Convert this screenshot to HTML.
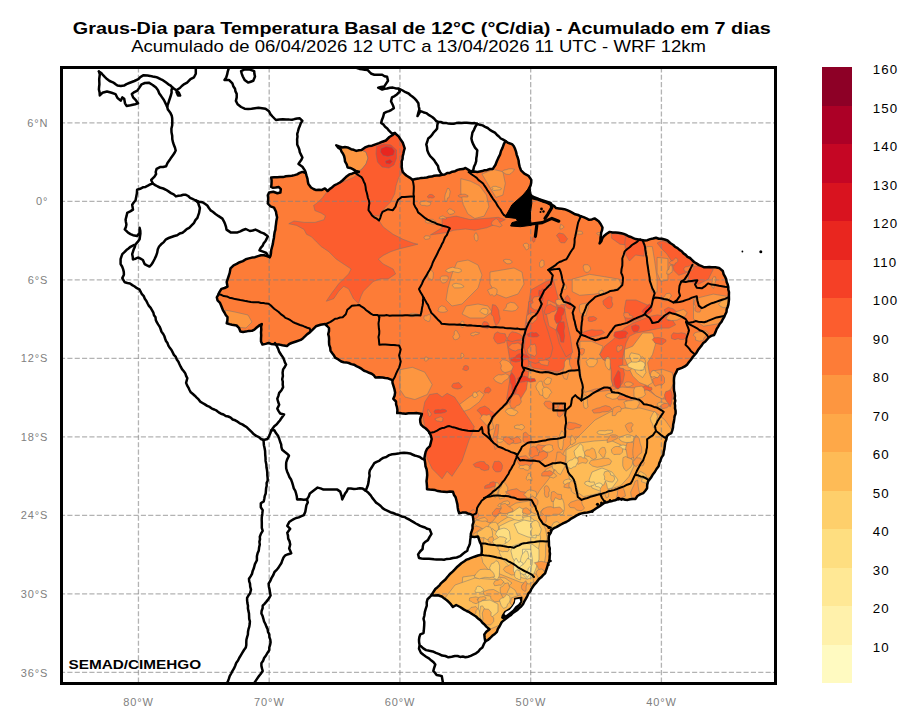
<!DOCTYPE html>
<html><head><meta charset="utf-8"><style>html,body{margin:0;padding:0;background:#fff;}svg{display:block;}</style></head>
<body><svg width="918" height="727" viewBox="0 0 918 727">
<rect width="918" height="727" fill="#fff"/>
<defs><clipPath id="ax"><rect x="63" y="69" width="711" height="613"/></clipPath><clipPath id="br"><path d="M271.2,177.4 280.0,177.0 291.8,175.7 297.1,174.4 302.4,171.9 305.8,173.0 307.5,178.8 308.4,184.0 311.0,187.5 316.2,190.1 321.5,190.1 324.9,188.4 327.6,191.0 331.9,187.5 337.1,184.0 342.4,180.5 345.9,177.1 349.3,174.4 354.6,172.7 358.9,171.8 352.8,169.2 347.6,167.5 345.0,161.4 344.1,156.1 340.6,149.2 336.3,145.3 342.4,147.4 347.6,147.4 351.1,149.2 356.3,150.9 361.5,150.0 365.0,147.4 372.0,145.7 379.0,143.1 385.9,140.5 389.4,137.0 394.9,133.0 398.8,136.6 402.7,142.5 404.7,148.4 402.7,156.2 401.8,164.0 402.7,171.9 406.7,175.8 412.5,179.7 424.3,177.8 434.1,175.8 442.0,174.8 449.8,172.9 457.6,169.9 465.5,168.0 471.4,171.9 477.3,171.9 487.1,169.9 492.8,168.9 495.5,164.8 498.3,157.9 501.0,151.0 503.8,144.1 505.5,141.0 507.9,142.8 512.0,144.1 514.8,148.3 516.8,155.1 518.9,163.4 521.0,170.3 524.4,173.7 528.5,175.8 531.3,179.9 530.6,185.4 528.5,189.5 527.2,192.3 532.0,196.0 540.9,200.5 551.9,204.7 556.1,208.1 561.6,208.8 567.1,210.2 572.6,212.9 578.1,215.0 583.6,217.1 589.1,219.8 594.6,218.4 598.7,221.2 602.5,227.5 600.5,238.0 599.6,243.4 604.0,236.0 609.7,231.9 621.3,233.3 635.7,239.1 644.4,240.5 656.0,237.7 667.5,240.5 673.3,245.0 679.5,249.9 685.7,254.9 691.9,259.8 696.8,263.6 704.2,267.3 711.7,267.3 719.1,267.9 722.8,271.0 725.3,277.2 727.7,284.6 729.0,292.0 729.0,299.4 727.7,306.9 725.3,314.3 721.6,321.7 716.6,329.1 714.1,335.0 708.7,337.5 703.3,342.9 698.0,350.1 692.6,357.2 687.3,364.4 681.9,367.9 677.4,369.5 674.7,375.1 673.9,385.8 674.7,398.3 675.6,410.8 673.9,421.6 673.0,427.5 671.3,433.2 666.8,436.3 665.2,442.4 664.4,448.9 663.4,454.7 660.5,460.4 658.6,466.2 654.8,472.0 650.9,477.8 648.0,481.6 647.1,488.3 643.2,493.2 637.4,496.0 635.5,498.9 627.8,499.9 620.1,499.0 612.4,500.9 604.7,502.8 598.9,506.6 593.2,510.5 587.4,512.4 581.6,513.4 573.9,517.2 566.2,522.0 558.5,525.9 551.8,529.7 548.9,535.5 548.9,541.3 549.0,545.9 550.0,553.7 549.0,561.6 547.1,567.5 545.1,573.3 541.2,577.3 537.3,581.2 534.0,585.0 531.3,589.1 528.5,593.3 525.8,598.8 523.0,604.3 518.9,608.4 514.8,611.8 510.6,615.3 505.8,618.7 501.7,622.1 499.6,626.3 496.9,631.8 490.2,638.0 485.3,641.5 484.3,634.4 486.3,631.8 489.5,629.2 486.3,626.6 482.4,622.7 478.4,618.8 473.2,614.8 469.3,612.2 464.1,609.6 460.1,607.0 456.2,605.0 452.9,607.0 451.0,604.4 447.1,600.5 441.8,596.5 437.9,595.2 431.4,595.2 435.3,589.0 441.2,583.1 447.1,577.3 452.9,571.4 458.8,565.5 466.7,559.6 474.5,556.7 481.4,554.7 481.6,547.3 479.8,541.9 478.0,536.5 470.8,536.5 471.7,531.2 473.5,522.2 472.6,515.1 465.5,512.4 459.2,513.3 457.4,504.4 455.6,497.2 453.0,491.8 444.0,491.8 435.1,490.1 427.0,489.2 426.5,481.1 427.0,472.2 425.2,463.2 424.4,457.9 427.0,448.9 429.9,446.2 431.7,439.0 430.8,435.5 429.0,431.9 425.5,428.3 421.0,424.7 420.1,419.4 421.9,414.0 416.5,413.1 405.8,413.7 397.2,413.1 396.9,406.9 396.0,401.5 393.3,398.8 395.1,392.6 393.3,385.4 392.4,380.1 387.9,378.3 382.6,377.4 375.4,377.4 371.7,373.7 364.1,370.7 356.4,366.1 348.8,363.0 341.2,361.5 335.1,357.7 330.5,350.8 329.0,341.7 328.2,334.1 329.0,328.0 325.1,324.0 320.5,324.7 315.9,326.3 312.9,329.3 309.8,332.4 305.2,336.2 300.7,339.9 296.1,341.5 291.5,343.0 286.9,346.1 282.4,345.3 276.3,344.6 268.6,343.0 262.5,344.6 261.0,341.5 261.0,332.4 261.8,324.0 256.4,327.8 251.9,330.8 245.8,331.6 240.4,331.6 238.9,327.8 236.6,325.5 232.0,324.7 226.7,323.2 227.5,317.1 224.4,312.5 222.1,308.0 219.8,302.6 217.5,300.3 216.8,297.3 219.1,292.7 221.4,288.9 227.5,286.6 226.7,282.0 228.2,277.5 229.7,272.9 230.5,268.3 233.6,265.3 239.7,262.2 245.8,259.2 251.9,257.6 258.0,256.1 264.1,255.3 269.6,257.2 270.5,255.8 271.9,247.5 273.3,240.7 274.6,232.4 276.0,224.1 277.1,217.3 276.0,211.8 274.0,207.6 270.5,206.3 267.8,203.5 267.8,195.3 269.1,192.5 273.3,191.8 277.4,193.2 280.4,192.5 280.8,189.1 278.8,187.0 272.6,187.7 271.2,187.0Z"/></clipPath></defs>
<g clip-path="url(#ax)">
<path d="M271.2,177.4 280.0,177.0 291.8,175.7 297.1,174.4 302.4,171.9 305.8,173.0 307.5,178.8 308.4,184.0 311.0,187.5 316.2,190.1 321.5,190.1 324.9,188.4 327.6,191.0 331.9,187.5 337.1,184.0 342.4,180.5 345.9,177.1 349.3,174.4 354.6,172.7 358.9,171.8 352.8,169.2 347.6,167.5 345.0,161.4 344.1,156.1 340.6,149.2 336.3,145.3 342.4,147.4 347.6,147.4 351.1,149.2 356.3,150.9 361.5,150.0 365.0,147.4 372.0,145.7 379.0,143.1 385.9,140.5 389.4,137.0 394.9,133.0 398.8,136.6 402.7,142.5 404.7,148.4 402.7,156.2 401.8,164.0 402.7,171.9 406.7,175.8 412.5,179.7 424.3,177.8 434.1,175.8 442.0,174.8 449.8,172.9 457.6,169.9 465.5,168.0 471.4,171.9 477.3,171.9 487.1,169.9 492.8,168.9 495.5,164.8 498.3,157.9 501.0,151.0 503.8,144.1 505.5,141.0 507.9,142.8 512.0,144.1 514.8,148.3 516.8,155.1 518.9,163.4 521.0,170.3 524.4,173.7 528.5,175.8 531.3,179.9 530.6,185.4 528.5,189.5 527.2,192.3 532.0,196.0 540.9,200.5 551.9,204.7 556.1,208.1 561.6,208.8 567.1,210.2 572.6,212.9 578.1,215.0 583.6,217.1 589.1,219.8 594.6,218.4 598.7,221.2 602.5,227.5 600.5,238.0 599.6,243.4 604.0,236.0 609.7,231.9 621.3,233.3 635.7,239.1 644.4,240.5 656.0,237.7 667.5,240.5 673.3,245.0 679.5,249.9 685.7,254.9 691.9,259.8 696.8,263.6 704.2,267.3 711.7,267.3 719.1,267.9 722.8,271.0 725.3,277.2 727.7,284.6 729.0,292.0 729.0,299.4 727.7,306.9 725.3,314.3 721.6,321.7 716.6,329.1 714.1,335.0 708.7,337.5 703.3,342.9 698.0,350.1 692.6,357.2 687.3,364.4 681.9,367.9 677.4,369.5 674.7,375.1 673.9,385.8 674.7,398.3 675.6,410.8 673.9,421.6 673.0,427.5 671.3,433.2 666.8,436.3 665.2,442.4 664.4,448.9 663.4,454.7 660.5,460.4 658.6,466.2 654.8,472.0 650.9,477.8 648.0,481.6 647.1,488.3 643.2,493.2 637.4,496.0 635.5,498.9 627.8,499.9 620.1,499.0 612.4,500.9 604.7,502.8 598.9,506.6 593.2,510.5 587.4,512.4 581.6,513.4 573.9,517.2 566.2,522.0 558.5,525.9 551.8,529.7 548.9,535.5 548.9,541.3 549.0,545.9 550.0,553.7 549.0,561.6 547.1,567.5 545.1,573.3 541.2,577.3 537.3,581.2 534.0,585.0 531.3,589.1 528.5,593.3 525.8,598.8 523.0,604.3 518.9,608.4 514.8,611.8 510.6,615.3 505.8,618.7 501.7,622.1 499.6,626.3 496.9,631.8 490.2,638.0 485.3,641.5 484.3,634.4 486.3,631.8 489.5,629.2 486.3,626.6 482.4,622.7 478.4,618.8 473.2,614.8 469.3,612.2 464.1,609.6 460.1,607.0 456.2,605.0 452.9,607.0 451.0,604.4 447.1,600.5 441.8,596.5 437.9,595.2 431.4,595.2 435.3,589.0 441.2,583.1 447.1,577.3 452.9,571.4 458.8,565.5 466.7,559.6 474.5,556.7 481.4,554.7 481.6,547.3 479.8,541.9 478.0,536.5 470.8,536.5 471.7,531.2 473.5,522.2 472.6,515.1 465.5,512.4 459.2,513.3 457.4,504.4 455.6,497.2 453.0,491.8 444.0,491.8 435.1,490.1 427.0,489.2 426.5,481.1 427.0,472.2 425.2,463.2 424.4,457.9 427.0,448.9 429.9,446.2 431.7,439.0 430.8,435.5 429.0,431.9 425.5,428.3 421.0,424.7 420.1,419.4 421.9,414.0 416.5,413.1 405.8,413.7 397.2,413.1 396.9,406.9 396.0,401.5 393.3,398.8 395.1,392.6 393.3,385.4 392.4,380.1 387.9,378.3 382.6,377.4 375.4,377.4 371.7,373.7 364.1,370.7 356.4,366.1 348.8,363.0 341.2,361.5 335.1,357.7 330.5,350.8 329.0,341.7 328.2,334.1 329.0,328.0 325.1,324.0 320.5,324.7 315.9,326.3 312.9,329.3 309.8,332.4 305.2,336.2 300.7,339.9 296.1,341.5 291.5,343.0 286.9,346.1 282.4,345.3 276.3,344.6 268.6,343.0 262.5,344.6 261.0,341.5 261.0,332.4 261.8,324.0 256.4,327.8 251.9,330.8 245.8,331.6 240.4,331.6 238.9,327.8 236.6,325.5 232.0,324.7 226.7,323.2 227.5,317.1 224.4,312.5 222.1,308.0 219.8,302.6 217.5,300.3 216.8,297.3 219.1,292.7 221.4,288.9 227.5,286.6 226.7,282.0 228.2,277.5 229.7,272.9 230.5,268.3 233.6,265.3 239.7,262.2 245.8,259.2 251.9,257.6 258.0,256.1 264.1,255.3 269.6,257.2 270.5,255.8 271.9,247.5 273.3,240.7 274.6,232.4 276.0,224.1 277.1,217.3 276.0,211.8 274.0,207.6 270.5,206.3 267.8,203.5 267.8,195.3 269.1,192.5 273.3,191.8 277.4,193.2 280.4,192.5 280.8,189.1 278.8,187.0 272.6,187.7 271.2,187.0Z" fill="#fd7c37"/>
<g clip-path="url(#br)">
<path d="M572.2,279.2 589.5,274.3 604.4,276.7 619.2,279.2 621.7,286.6 609.3,291.6 594.5,294.1 579.6,295.3 572.2,291.6Z" fill="#fd9640" stroke="#6e7478" stroke-opacity="0.6" stroke-width="0.8"/>
<path d="M693.5,299.0 713.3,294.1 728.1,296.5 728.1,311.4 718.2,323.8 703.4,326.2 693.5,318.8Z" fill="#fd9640" stroke="#6e7478" stroke-opacity="0.6" stroke-width="0.8"/>
<path d="M646.3,246.6 652.3,246.6 654.7,261.0 657.1,278.9 657.1,292.1 652.3,292.1 649.9,278.9 647.5,261.0Z" fill="#fd9640" stroke="#6e7478" stroke-opacity="0.6" stroke-width="0.8"/>
<path d="M657.1,257.4 667.9,258.6 667.9,280.1 660.7,281.3 657.1,272.9Z" fill="#fd9640" stroke="#6e7478" stroke-opacity="0.6" stroke-width="0.8"/>
<path d="M472.6,515.1 476.2,513.3 477.1,507.9 481.6,500.8 488.7,495.4 499.4,486.5 507.0,476.0 514.0,464.0 517.1,454.5 508.2,450.6 498.4,446.7 491.6,440.8 488.6,432.9 488.6,425.1 492.5,417.3 500.0,410.0 508.0,404.0 515.0,395.0 520.0,385.0 524.0,370.0 540.0,372.0 560.0,373.0 579.0,370.0 585.0,390.0 595.0,392.0 612.0,390.0 622.0,387.0 635.0,388.0 648.0,390.0 656.0,396.0 663.0,399.0 676.0,399.0 700.0,399.0 700.0,700.0 400.0,700.0 400.0,560.0 460.0,530.0Z" fill="#fd9640" stroke="#6e7478" stroke-opacity="0.6" stroke-width="0.8"/>
<path d="M400.0,369.7 412.4,367.3 424.8,372.2 432.2,384.6 427.3,394.5 414.9,399.5 405.0,397.0 400.0,389.6Z" fill="#fd9640" stroke="#6e7478" stroke-opacity="0.6" stroke-width="0.8"/>
<path d="M459.5,404.4 469.4,397.0 479.3,390.8 484.2,394.5 479.3,401.9 469.4,409.4 461.9,411.9Z" fill="#fd9640" stroke="#6e7478" stroke-opacity="0.6" stroke-width="0.8"/>
<path d="M457.0,262.0 468.0,260.0 478.0,265.0 482.0,275.0 478.0,288.0 470.0,296.0 462.0,304.0 452.0,306.0 446.0,300.0 448.0,288.0 452.0,274.0Z" fill="#fd9640" stroke="#6e7478" stroke-opacity="0.6" stroke-width="0.8"/>
<path d="M490.0,272.0 502.0,270.0 514.0,268.0 522.0,272.0 524.0,284.0 518.0,294.0 506.0,298.0 496.0,294.0 490.0,284.0Z" fill="#fd9640" stroke="#6e7478" stroke-opacity="0.6" stroke-width="0.8"/>
<path d="M466.0,306.0 478.0,304.0 488.0,306.0 492.0,312.0 484.0,318.0 470.0,318.0 462.0,314.0Z" fill="#fd9640" stroke="#6e7478" stroke-opacity="0.6" stroke-width="0.8"/>
<path d="M460.8,178.7 470.2,181.1 479.5,185.7 486.5,195.1 488.9,206.8 484.2,216.1 474.9,218.5 467.8,213.8 463.2,204.4 460.8,192.7Z" fill="#fd9640" stroke="#6e7478" stroke-opacity="0.6" stroke-width="0.8"/>
<path d="M481.9,174.0 493.6,169.4 502.9,171.7 505.3,183.4 502.9,195.1 495.9,197.4 488.9,185.7Z" fill="#fd9640" stroke="#6e7478" stroke-opacity="0.6" stroke-width="0.8"/>
<path d="M224.8,310.0 235.0,312.0 248.0,315.0 252.0,322.0 246.0,328.0 236.0,327.0 228.0,322.0Z" fill="#fd9640" stroke="#6e7478" stroke-opacity="0.6" stroke-width="0.8"/>
<path d="M336.3,145.3 342.4,147.4 347.6,147.4 351.1,149.2 356.3,150.9 361.5,150.0 366.0,152.0 368.0,158.0 366.0,164.0 362.0,169.0 358.0,172.0 352.8,169.2 347.6,167.5 345.0,161.4 344.1,156.1 340.6,149.2Z" fill="#fd9640" stroke="#6e7478" stroke-opacity="0.6" stroke-width="0.8"/>
<path d="M579.9,341.3 591.5,341.3 603.0,346.2 599.7,354.5 603.0,359.4 609.6,362.7 611.3,371.0 611.3,379.2 612.9,385.8 606.3,387.5 594.8,389.1 584.9,392.4 581.6,382.5 579.9,366.0 579.9,349.5Z" fill="#fd9640" stroke="#6e7478" stroke-opacity="0.6" stroke-width="0.8"/>
<path d="M652.5,371.0 662.4,369.3 672.3,372.6 674.0,382.5 669.0,392.4 662.4,399.0 655.8,395.7 649.2,389.1 647.6,382.5 652.5,375.9Z" fill="#fd9640" stroke="#6e7478" stroke-opacity="0.6" stroke-width="0.8"/>
<path d="M470.8,536.5 472.9,534.5 484.5,526.2 492.7,521.3 499.3,513.0 507.6,508.1 515.9,503.1 525.8,501.5 534.0,499.8 540.0,490.0 548.0,480.0 555.0,470.0 560.0,460.0 565.0,450.0 575.0,440.0 585.0,430.0 595.0,420.0 610.0,412.0 625.0,408.0 640.0,408.0 655.0,412.0 665.0,420.0 672.0,430.0 700.0,430.0 700.0,700.0 400.0,700.0 400.0,560.0Z" fill="#fea848" stroke="#6e7478" stroke-opacity="0.6" stroke-width="0.8"/>
<path d="M624.5,349.5 632.7,346.2 642.6,333.0 652.5,333.0 655.8,342.9 652.5,354.5 647.6,362.7 649.2,372.6 652.5,382.5 647.6,385.8 639.3,382.5 632.7,375.9 627.8,366.0 624.5,357.8Z" fill="#fea848" stroke="#6e7478" stroke-opacity="0.6" stroke-width="0.8"/>
<path d="M566.0,450.0 579.0,443.0 594.4,441.0 610.0,440.0 621.0,445.0 630.0,454.0 634.0,466.0 628.8,476.8 620.8,485.6 607.6,490.0 594.4,494.4 583.4,496.6 574.6,490.0 569.0,476.8 566.0,463.6Z" fill="#febb56" stroke="#6e7478" stroke-opacity="0.6" stroke-width="0.8"/>
<path d="M484.5,534.5 492.7,527.9 501.0,521.3 509.2,516.3 519.2,513.0 529.1,511.4 537.3,514.7 542.3,521.3 545.6,529.5 547.2,537.8 545.6,546.0 545.6,555.9 543.9,565.9 540.6,574.1 535.7,580.7 529.1,584.0 520.8,582.4 512.5,579.1 504.3,575.8 496.0,572.5 487.8,569.2 482.8,562.5 481.2,554.3 482.8,546.0Z" fill="#febb56" stroke="#6e7478" stroke-opacity="0.6" stroke-width="0.8"/>
<path d="M462.7,577.0 475.0,575.3 490.0,576.0 505.0,578.0 512.0,583.0 505.0,589.0 490.0,588.0 475.0,587.0 462.0,586.0Z" fill="#febb56" stroke="#6e7478" stroke-opacity="0.6" stroke-width="0.8"/>
<path d="M474.5,598.0 485.0,596.9 498.0,598.0 506.0,603.0 505.9,612.0 500.0,620.0 490.0,622.4 480.0,620.0 474.5,612.0Z" fill="#febb56" stroke="#6e7478" stroke-opacity="0.6" stroke-width="0.8"/>
<path d="M455.0,585.0 475.0,578.0 500.0,580.0 515.0,590.0 520.0,600.0 510.0,612.0 500.0,625.0 488.0,630.0 478.0,622.0 465.0,612.0 452.0,605.0 445.0,598.0Z" fill="#febb56" stroke="#6e7478" stroke-opacity="0.6" stroke-width="0.8"/>
<path d="M631.1,352.8 639.3,354.5 644.3,362.7 645.9,372.6 642.6,377.6 636.0,372.6 632.7,364.4 629.4,356.1Z" fill="#febb56" stroke="#6e7478" stroke-opacity="0.6" stroke-width="0.8"/>
<path d="M592.0,472.0 602.0,468.0 612.0,472.0 618.0,480.0 612.0,488.0 600.0,491.0 592.0,488.0 589.0,480.0Z" fill="#fecf6b" stroke="#6e7478" stroke-opacity="0.6" stroke-width="0.8"/>
<path d="M499.3,526.2 509.2,521.3 519.2,518.0 529.1,516.3 535.7,521.3 539.0,529.5 540.6,537.8 539.0,546.0 537.3,555.9 535.7,565.9 532.4,574.1 527.4,579.1 520.8,577.4 515.9,572.5 509.2,565.9 502.6,559.2 499.3,552.6 501.0,542.7 499.3,534.5Z" fill="#fecf6b" stroke="#6e7478" stroke-opacity="0.6" stroke-width="0.8"/>
<path d="M479.0,601.0 490.0,600.0 498.0,604.0 498.0,612.0 492.0,617.0 482.0,616.0 478.4,609.0Z" fill="#fecf6b" stroke="#6e7478" stroke-opacity="0.6" stroke-width="0.8"/>
<path d="M512.5,546.0 522.5,542.7 532.4,544.4 539.0,549.3 539.0,559.2 535.7,569.2 532.4,577.4 527.4,579.1 522.5,574.1 517.5,565.9 512.5,557.6 510.9,551.0Z" fill="#fede80" stroke="#6e7478" stroke-opacity="0.6" stroke-width="0.8"/>
<path d="M514.0,524.0 524.0,520.0 533.0,522.0 537.0,530.0 536.0,538.0 528.0,537.0 518.0,533.0Z" fill="#fede80" stroke="#6e7478" stroke-opacity="0.6" stroke-width="0.8"/>
<path d="M522.5,549.3 530.7,549.3 532.4,559.2 530.7,572.5 527.4,577.4 524.1,572.5 522.5,562.5Z" fill="#ffe895" stroke="#6e7478" stroke-opacity="0.6" stroke-width="0.8"/>
<path d="M530.8,290.0 545.0,282.0 553.0,278.0 556.0,290.0 560.0,305.0 566.0,320.0 570.0,338.0 572.0,352.0 568.0,366.0 558.0,372.0 545.0,370.0 533.0,368.0 524.0,358.0 523.0,340.0 526.0,320.0 529.0,302.0Z" fill="#fc5d2e" stroke="#6e7478" stroke-opacity="0.6" stroke-width="0.8"/>
<path d="M611.6,233.4 631.9,235.8 629.5,245.4 620.0,244.2 611.6,238.2Z" fill="#fc5d2e" stroke="#6e7478" stroke-opacity="0.6" stroke-width="0.8"/>
<path d="M661.9,240.6 673.9,245.4 685.9,252.6 694.3,261.0 691.9,268.1 685.9,272.9 678.7,275.3 673.9,270.5 671.5,261.0 666.7,253.8 661.9,249.0 657.1,243.0Z" fill="#fc5d2e" stroke="#6e7478" stroke-opacity="0.6" stroke-width="0.8"/>
<path d="M688.5,266.8 703.4,265.6 713.3,269.3 708.3,279.2 698.4,284.2 688.5,281.7Z" fill="#fc5d2e" stroke="#6e7478" stroke-opacity="0.6" stroke-width="0.8"/>
<path d="M625.9,234.6 642.7,238.2 645.1,249.0 643.9,256.2 635.5,255.0 629.5,261.0 625.9,255.0 624.8,243.0Z" fill="#fc5d2e" stroke="#6e7478" stroke-opacity="0.6" stroke-width="0.8"/>
<path d="M330.0,188.6 336.2,184.8 344.9,181.1 353.5,177.4 358.5,173.7 361.5,177.1 365.0,184.0 366.8,192.7 369.4,203.2 368.5,210.2 372.0,215.4 378.3,219.5 383.2,226.9 393.1,234.3 403.0,239.3 412.9,243.0 417.9,244.2 408.0,246.7 398.1,249.2 390.6,251.7 383.2,255.4 378.3,259.1 383.2,264.0 393.1,269.0 395.6,273.9 388.2,278.9 380.7,278.9 373.3,281.4 368.4,286.3 363.4,291.3 361.0,296.2 358.5,303.6 353.5,298.7 348.6,288.8 343.6,286.3 338.7,291.3 333.7,298.7 326.3,301.2 331.3,293.7 338.7,283.8 343.6,278.9 348.6,273.9 351.1,269.0 343.6,264.0 336.2,259.1 328.8,251.7 321.4,246.7 316.4,241.8 311.5,236.8 306.5,234.3 304.0,229.4 296.6,225.4 288.8,223.7 294.0,221.0 304.4,222.4 314.9,222.4 324.1,219.7 325.4,215.8 321.4,213.2 314.9,210.6 313.6,205.4 317.5,202.7 322.7,197.5 326.0,193.0Z" fill="#fc5d2e" stroke="#6e7478" stroke-opacity="0.6" stroke-width="0.8"/>
<path d="M361.0,150.0 372.0,145.7 379.0,143.1 385.9,140.5 389.4,137.0 394.9,133.0 398.8,136.6 402.7,142.5 404.7,148.4 402.7,156.2 401.8,164.0 402.7,171.9 398.8,177.3 396.1,185.5 394.7,193.8 390.5,202.1 385.0,207.6 379.0,216.0 372.0,215.4 368.5,210.2 369.4,203.2 366.8,192.7 365.0,184.0 361.5,177.1 358.0,172.0 362.0,169.0 366.0,164.0 368.0,158.0 366.0,152.0Z" fill="#fc5d2e" stroke="#6e7478" stroke-opacity="0.6" stroke-width="0.8"/>
<path d="M442.1,218.5 456.1,216.1 470.2,219.6 484.2,218.5 498.2,217.3 505.3,219.6 498.2,223.2 486.5,227.8 474.9,230.2 465.5,229.0 453.8,230.2 446.8,232.5 430.4,234.9 442.1,227.8Z" fill="#fc5d2e" stroke="#6e7478" stroke-opacity="0.6" stroke-width="0.8"/>
<path d="M422.3,414.3 424.8,401.9 429.7,394.5 437.2,393.3 442.1,397.0 447.1,393.3 454.5,397.0 459.5,404.4 464.4,411.9 469.4,419.3 474.3,426.7 471.9,434.2 469.4,439.1 466.9,446.5 464.4,454.0 461.9,461.4 457.0,468.8 452.0,476.3 447.1,471.3 442.1,478.8 437.2,473.8 432.2,468.8 427.3,458.9 424.8,451.5 427.3,439.1 424.8,426.7Z" fill="#fc5d2e" stroke="#6e7478" stroke-opacity="0.6" stroke-width="0.8"/>
<path d="M506.5,340.0 523.9,340.0 528.8,354.9 528.8,372.2 526.4,389.6 518.9,401.9 511.5,404.4 506.5,399.5 509.0,384.6 511.5,369.7 509.0,354.9Z" fill="#fc5d2e" stroke="#6e7478" stroke-opacity="0.6" stroke-width="0.8"/>
<path d="M528.6,301.8 535.2,299.6 541.8,306.2 544.0,319.4 548.4,332.6 552.8,348.0 550.6,356.8 544.0,361.2 535.2,363.4 528.6,361.2 524.2,348.0 526.4,326.0 528.6,315.0Z" fill="#fc5d2e" stroke="#6e7478" stroke-opacity="0.6" stroke-width="0.8"/>
<path d="M557.2,304.0 563.8,301.8 566.0,317.2 570.4,337.0 572.6,352.4 566.0,356.8 559.4,343.6 555.0,326.0Z" fill="#fc5d2e" stroke="#6e7478" stroke-opacity="0.6" stroke-width="0.8"/>
<path d="M599.7,354.5 604.7,346.2 612.9,339.6 619.5,333.0 624.5,328.1 632.7,323.1 641.0,319.8 649.2,316.5 657.5,314.9 665.7,316.5 672.3,319.8 675.6,324.8 669.0,328.1 660.8,328.1 652.5,329.7 644.3,331.4 636.0,333.0 629.4,336.3 626.1,342.9 624.5,349.5 622.8,357.8 622.8,366.0 624.5,374.3 622.8,382.5 617.9,389.1 612.9,385.8 611.3,379.2 611.3,371.0 609.6,362.7 603.0,359.4Z" fill="#fc5d2e" stroke="#6e7478" stroke-opacity="0.6" stroke-width="0.8"/>
<path d="M626.1,300.0 636.0,300.0 647.6,305.0 649.2,313.2 641.0,318.2 632.7,321.5 626.1,323.1 624.5,316.5 624.5,308.3Z" fill="#fc5d2e" stroke="#6e7478" stroke-opacity="0.6" stroke-width="0.8"/>
<path d="M548.0,300.0 556.0,304.0 560.0,318.0 556.0,330.0 549.0,326.0 546.0,312.0Z" fill="#fd7c37" stroke="#6e7478" stroke-opacity="0.6" stroke-width="0.8"/>
<path d="M376.5,146.5 383.0,144.0 391.0,145.0 396.5,150.0 396.5,158.0 394.0,165.0 389.0,168.0 382.0,167.0 377.5,162.0 376.0,154.0Z" fill="#f54026" stroke="#6e7478" stroke-opacity="0.6" stroke-width="0.8"/>
<path d="M381.0,148.5 386.0,146.5 392.0,147.5 394.5,151.0 393.5,155.0 388.0,156.5 383.0,155.5 380.5,152.0Z" fill="#e9261f" stroke="#6e7478" stroke-opacity="0.6" stroke-width="0.8"/>
<path d="M385.5,161.0 390.0,159.5 392.5,161.5 390.0,164.0 386.0,163.5Z" fill="#e9261f" stroke="#6e7478" stroke-opacity="0.6" stroke-width="0.8"/>
<path d="M492.6,441.6 491.1,440.3 491.9,438.7 496.1,439.0 497.8,438.6 499.6,438.9 502.1,439.3 503.3,440.5 502.1,441.8 499.8,442.5 497.4,441.7 495.4,442.0Z" fill="#fea848" stroke="#6e7478" stroke-opacity="0.6" stroke-width="0.8"/>
<path d="M513.1,443.1 509.4,443.3 506.9,441.3 508.1,438.8 511.8,438.1 514.2,438.1 517.4,436.5 519.3,438.3 521.0,440.1 521.0,442.4 517.7,443.3 515.2,443.6Z" fill="#fd7c37" stroke="#6e7478" stroke-opacity="0.6" stroke-width="0.8"/>
<path d="M535.7,447.1 537.9,444.6 542.2,445.5 545.4,445.6 548.6,447.0 548.1,449.5 547.2,451.5 546.3,454.2 542.5,454.6 539.4,453.3 539.6,450.8 537.5,449.7Z" fill="#fd7c37" stroke="#6e7478" stroke-opacity="0.6" stroke-width="0.8"/>
<path d="M552.5,445.6 552.4,447.7 553.3,449.2 552.2,450.9 549.6,452.1 546.1,452.0 543.8,450.7 541.8,449.4 542.4,447.7 544.3,446.7 545.9,445.2 549.3,444.6Z" fill="#fea848" stroke="#6e7478" stroke-opacity="0.6" stroke-width="0.8"/>
<path d="M564.4,437.5 563.3,441.3 563.2,445.2 562.2,449.9 560.0,449.5 558.4,446.3 558.1,442.1 557.8,438.4 559.4,436.7 560.1,434.1 561.8,430.7 563.7,432.8Z" fill="#fea848" stroke="#6e7478" stroke-opacity="0.6" stroke-width="0.8"/>
<path d="M570.6,444.2 570.2,441.9 571.0,440.1 570.4,437.6 571.5,435.2 573.3,436.5 574.2,438.1 575.0,439.4 575.7,441.4 574.8,443.1 573.4,443.3 572.2,445.1Z" fill="#fea848" stroke="#6e7478" stroke-opacity="0.6" stroke-width="0.8"/>
<path d="M623.1,445.0 625.4,445.5 628.6,446.2 629.5,448.2 626.3,449.3 623.4,449.0 621.9,450.1 618.9,450.3 618.0,448.7 618.6,447.4 619.0,446.1 620.8,445.4Z" fill="#fecf6b" stroke="#6e7478" stroke-opacity="0.6" stroke-width="0.8"/>
<path d="M637.8,447.6 638.7,453.3 636.1,457.4 632.9,457.6 630.4,458.6 627.4,457.8 626.7,452.9 625.6,448.1 626.9,443.2 630.0,441.7 632.8,442.5 635.1,444.7Z" fill="#fd9640" stroke="#6e7478" stroke-opacity="0.6" stroke-width="0.8"/>
<path d="M632.9,454.8 632.8,449.8 633.4,445.8 633.8,440.7 636.0,434.9 639.1,438.4 640.3,443.7 641.6,447.5 641.8,452.6 639.2,454.3 637.5,456.2 634.3,461.5Z" fill="#fd9640" stroke="#6e7478" stroke-opacity="0.6" stroke-width="0.8"/>
<path d="M531.0,457.4 529.3,455.2 529.1,453.1 529.7,451.2 530.0,448.1 533.4,446.2 536.9,448.0 537.4,451.0 539.0,452.7 539.1,455.2 537.1,457.1 534.1,458.3Z" fill="#fd7c37" stroke="#6e7478" stroke-opacity="0.6" stroke-width="0.8"/>
<path d="M547.7,453.3 547.5,455.9 546.4,457.7 544.1,458.6 542.6,460.3 538.7,461.4 532.9,461.2 531.8,458.2 534.8,455.9 538.4,455.4 538.9,452.5 543.9,451.0Z" fill="#fd7c37" stroke="#6e7478" stroke-opacity="0.6" stroke-width="0.8"/>
<path d="M562.8,454.4 565.9,456.1 565.4,461.4 564.7,465.5 562.7,467.9 560.5,469.5 557.5,470.0 555.6,466.2 555.5,461.5 556.4,457.7 557.1,452.1 560.4,452.1Z" fill="#fd9640" stroke="#6e7478" stroke-opacity="0.6" stroke-width="0.8"/>
<path d="M579.2,458.1 576.5,458.2 574.8,455.1 574.0,451.1 576.4,448.5 578.1,446.6 580.4,443.7 582.8,446.2 583.1,450.1 585.1,453.1 584.4,457.3 582.1,460.5Z" fill="#fecf6b" stroke="#6e7478" stroke-opacity="0.6" stroke-width="0.8"/>
<path d="M578.1,464.3 575.7,462.8 576.2,460.3 577.5,458.6 578.7,456.7 581.1,456.6 582.8,457.9 585.9,458.1 587.8,460.6 586.2,463.3 582.3,462.6 580.8,463.1Z" fill="#fea848" stroke="#6e7478" stroke-opacity="0.6" stroke-width="0.8"/>
<path d="M593.4,459.5 590.6,457.8 589.2,456.4 585.7,456.0 584.2,452.7 586.5,450.0 589.6,449.8 592.0,447.8 594.5,449.4 595.3,452.1 596.1,454.5 596.4,458.0Z" fill="#fea848" stroke="#6e7478" stroke-opacity="0.6" stroke-width="0.8"/>
<path d="M604.6,456.9 602.7,457.5 601.3,455.7 600.4,454.2 598.7,452.5 599.5,450.1 600.8,448.3 602.5,447.4 604.6,447.5 605.5,450.0 605.9,452.3 605.1,454.3Z" fill="#fea848" stroke="#6e7478" stroke-opacity="0.6" stroke-width="0.8"/>
<path d="M617.9,454.3 616.2,454.4 613.9,454.6 612.0,452.7 611.3,449.7 613.3,447.5 615.6,446.5 617.8,446.5 620.4,446.9 622.9,448.9 622.3,452.3 620.3,454.3Z" fill="#fea848" stroke="#6e7478" stroke-opacity="0.6" stroke-width="0.8"/>
<path d="M476.7,462.4 480.5,461.4 484.4,461.7 485.6,464.0 488.2,465.0 489.2,467.1 488.5,469.8 484.4,470.6 480.9,469.4 479.6,467.7 475.2,467.1 473.2,464.4Z" fill="#fc5d2e" stroke="#6e7478" stroke-opacity="0.6" stroke-width="0.8"/>
<path d="M494.5,461.4 496.9,461.4 498.9,461.2 501.0,462.5 502.4,465.2 502.2,468.6 500.7,471.5 498.1,471.9 495.8,471.8 493.8,470.0 492.5,467.2 493.4,464.2Z" fill="#fc5d2e" stroke="#6e7478" stroke-opacity="0.6" stroke-width="0.8"/>
<path d="M518.7,463.7 517.0,461.0 517.0,457.0 521.9,456.3 526.0,455.7 528.7,458.3 532.1,460.1 532.8,463.6 530.0,466.2 527.2,469.0 522.7,468.2 520.3,465.8Z" fill="#fd7c37" stroke="#6e7478" stroke-opacity="0.6" stroke-width="0.8"/>
<path d="M523.6,468.6 520.3,468.7 518.8,467.2 520.2,465.6 523.3,465.5 525.3,464.8 527.9,465.1 529.5,466.2 529.1,467.6 529.5,469.0 527.8,470.4 524.8,469.7Z" fill="#fea848" stroke="#6e7478" stroke-opacity="0.6" stroke-width="0.8"/>
<path d="M553.3,478.1 549.3,476.7 547.3,474.9 544.1,474.1 544.7,471.7 545.6,469.6 548.0,468.4 551.3,466.6 554.3,468.5 553.4,471.3 553.7,472.7 556.7,476.1Z" fill="#fea848" stroke="#6e7478" stroke-opacity="0.6" stroke-width="0.8"/>
<path d="M565.0,466.2 563.5,468.9 562.3,471.2 560.4,474.6 557.4,472.8 555.9,470.3 552.5,468.4 552.0,464.1 556.0,462.6 558.9,463.5 561.1,462.4 564.2,463.0Z" fill="#febb56" stroke="#6e7478" stroke-opacity="0.6" stroke-width="0.8"/>
<path d="M577.7,458.2 578.2,461.8 576.5,464.5 575.5,466.6 573.4,467.0 571.0,468.7 568.2,467.5 566.3,464.4 568.3,461.2 570.5,460.1 572.2,459.8 574.3,457.9Z" fill="#fecf6b" stroke="#6e7478" stroke-opacity="0.6" stroke-width="0.8"/>
<path d="M589.1,463.3 591.0,460.3 596.6,459.6 599.6,459.0 603.3,458.2 608.9,458.4 611.6,461.2 610.1,464.2 605.5,465.5 601.9,466.4 597.2,467.3 592.5,466.0Z" fill="#fea848" stroke="#6e7478" stroke-opacity="0.6" stroke-width="0.8"/>
<path d="M630.5,467.5 628.6,468.9 626.4,471.1 624.2,469.1 622.8,465.9 622.7,462.1 623.0,457.6 625.8,456.5 628.0,457.7 630.1,458.4 633.0,460.3 632.2,464.8Z" fill="#fea848" stroke="#6e7478" stroke-opacity="0.6" stroke-width="0.8"/>
<path d="M638.3,464.8 636.1,466.6 633.8,465.2 632.9,461.9 634.8,459.4 636.5,457.8 638.5,457.9 640.5,458.1 641.5,460.2 644.5,462.6 642.9,465.8 639.8,465.5Z" fill="#fd9640" stroke="#6e7478" stroke-opacity="0.6" stroke-width="0.8"/>
<path d="M528.9,479.4 527.5,480.2 526.1,478.8 526.8,476.4 527.9,475.3 528.3,473.3 529.6,473.2 530.6,474.3 530.7,476.3 531.9,477.9 531.8,480.8 529.7,479.8Z" fill="#fea848" stroke="#6e7478" stroke-opacity="0.6" stroke-width="0.8"/>
<path d="M547.4,471.2 549.6,470.5 551.7,471.5 553.3,473.3 551.7,475.2 549.6,476.1 547.5,475.9 545.5,476.0 541.7,476.0 541.8,473.5 543.5,471.7 545.6,471.1Z" fill="#fd7c37" stroke="#6e7478" stroke-opacity="0.6" stroke-width="0.8"/>
<path d="M563.6,483.6 563.2,482.0 564.6,480.1 568.2,479.0 571.7,480.1 573.1,481.9 571.4,483.4 572.9,484.8 573.2,487.6 568.9,488.0 565.9,486.3 565.5,484.6Z" fill="#febb56" stroke="#6e7478" stroke-opacity="0.6" stroke-width="0.8"/>
<path d="M584.7,483.9 585.1,481.9 587.6,481.2 589.7,481.9 590.9,482.2 594.2,481.9 594.7,483.8 593.5,485.4 591.3,485.8 589.8,486.5 588.2,485.9 586.6,485.2Z" fill="#fecf6b" stroke="#6e7478" stroke-opacity="0.6" stroke-width="0.8"/>
<path d="M609.0,481.7 606.4,480.8 604.3,479.5 604.8,477.0 603.7,474.7 604.6,471.8 607.7,471.0 610.2,472.6 610.7,475.0 614.0,476.0 614.7,479.2 612.7,482.1Z" fill="#febb56" stroke="#6e7478" stroke-opacity="0.6" stroke-width="0.8"/>
<path d="M641.8,478.2 640.5,478.1 638.3,477.7 638.1,475.3 638.6,472.9 640.2,471.7 641.9,472.1 643.0,473.0 644.4,473.6 646.2,475.6 645.8,478.5 643.1,478.3Z" fill="#febb56" stroke="#6e7478" stroke-opacity="0.6" stroke-width="0.8"/>
<path d="M655.8,479.4 653.4,481.3 650.7,482.1 649.5,483.5 646.5,483.6 644.3,482.6 641.5,481.7 641.8,479.9 642.8,478.2 646.4,478.2 649.0,477.8 652.1,478.2Z" fill="#febb56" stroke="#6e7478" stroke-opacity="0.6" stroke-width="0.8"/>
<path d="M493.8,486.5 492.1,487.0 489.6,488.0 484.5,488.4 484.9,486.0 487.4,484.7 489.6,484.4 489.9,482.7 493.2,481.7 496.1,482.8 496.5,484.5 496.2,485.9Z" fill="#fc5d2e" stroke="#6e7478" stroke-opacity="0.6" stroke-width="0.8"/>
<path d="M495.9,482.6 497.5,482.7 499.0,484.4 498.9,488.7 498.1,491.3 497.4,492.8 496.8,495.9 495.2,497.6 493.9,494.7 493.8,490.7 494.8,488.2 495.3,486.4Z" fill="#fea848" stroke="#6e7478" stroke-opacity="0.6" stroke-width="0.8"/>
<path d="M504.1,482.3 506.0,484.5 507.8,487.7 507.6,492.4 505.5,494.6 504.5,497.7 502.6,498.1 499.6,499.1 498.2,494.3 499.3,489.4 501.1,487.2 502.0,483.6Z" fill="#fea848" stroke="#6e7478" stroke-opacity="0.6" stroke-width="0.8"/>
<path d="M516.7,488.7 520.8,491.6 524.9,492.1 528.9,493.9 527.6,496.4 525.8,499.3 519.6,500.4 515.4,497.5 511.8,496.7 510.1,494.9 505.4,491.9 510.8,489.8Z" fill="#fd7c37" stroke="#6e7478" stroke-opacity="0.6" stroke-width="0.8"/>
<path d="M527.7,498.2 526.0,496.3 523.6,494.5 525.9,492.7 527.1,490.8 529.9,489.7 533.0,490.5 536.0,491.5 536.6,493.7 536.5,496.0 534.6,498.1 531.0,497.5Z" fill="#fea848" stroke="#6e7478" stroke-opacity="0.6" stroke-width="0.8"/>
<path d="M549.7,490.6 548.7,492.5 548.9,496.2 547.2,497.4 545.3,496.8 544.4,493.8 544.6,491.2 544.1,488.5 545.1,486.1 546.7,485.7 548.2,486.6 549.1,488.4Z" fill="#fd9640" stroke="#6e7478" stroke-opacity="0.6" stroke-width="0.8"/>
<path d="M571.9,485.5 570.5,486.7 569.3,487.6 567.8,487.9 566.2,487.6 563.9,487.2 564.4,485.4 565.3,484.3 566.6,483.6 567.9,482.9 569.9,482.8 571.6,483.8Z" fill="#fd9640" stroke="#6e7478" stroke-opacity="0.6" stroke-width="0.8"/>
<path d="M571.3,491.2 571.0,488.5 568.8,486.2 569.4,482.6 571.6,480.8 573.8,481.1 576.0,481.7 575.6,485.5 577.1,487.5 578.2,492.1 575.6,494.1 573.0,492.7Z" fill="#fea848" stroke="#6e7478" stroke-opacity="0.6" stroke-width="0.8"/>
<path d="M602.0,484.8 603.2,485.6 604.5,487.0 603.6,488.6 600.6,488.3 599.2,487.1 598.3,486.8 595.8,486.4 595.0,484.8 596.8,483.6 599.1,482.9 601.4,483.5Z" fill="#fede80" stroke="#6e7478" stroke-opacity="0.6" stroke-width="0.8"/>
<path d="M604.8,493.8 603.7,494.6 600.9,495.0 600.2,488.9 602.4,485.3 604.0,484.8 605.3,481.1 606.6,483.9 607.3,487.3 608.9,491.1 608.5,496.8 606.3,498.0Z" fill="#fea848" stroke="#6e7478" stroke-opacity="0.6" stroke-width="0.8"/>
<path d="M623.4,488.5 624.7,492.0 625.5,496.0 622.4,497.4 621.4,499.2 619.6,502.8 616.2,503.0 616.6,497.1 617.5,494.1 617.5,491.1 618.8,488.6 621.0,487.1Z" fill="#fd9640" stroke="#6e7478" stroke-opacity="0.6" stroke-width="0.8"/>
<path d="M638.2,486.3 638.7,489.5 639.8,493.6 639.3,499.6 636.4,499.3 634.4,497.9 631.5,497.5 630.6,492.2 632.5,488.0 633.7,485.4 635.0,481.4 637.7,480.0Z" fill="#fd9640" stroke="#6e7478" stroke-opacity="0.6" stroke-width="0.8"/>
<path d="M504.3,501.4 507.8,500.8 509.7,502.4 509.4,504.2 506.3,504.9 505.8,506.2 503.6,506.8 500.5,507.0 497.7,505.8 499.2,503.8 501.9,503.2 502.4,502.1Z" fill="#fea848" stroke="#6e7478" stroke-opacity="0.6" stroke-width="0.8"/>
<path d="M536.5,498.6 538.0,500.9 537.8,504.1 536.1,506.2 534.1,506.0 532.2,507.6 530.3,505.9 530.2,502.8 530.2,500.1 530.6,496.7 532.9,495.9 534.7,498.0Z" fill="#fd9640" stroke="#6e7478" stroke-opacity="0.6" stroke-width="0.8"/>
<path d="M558.4,501.2 556.1,501.4 554.2,501.6 551.6,501.4 550.8,498.4 551.1,495.4 551.5,492.0 554.1,491.4 556.0,492.9 557.4,494.0 561.5,494.7 561.6,499.2Z" fill="#fd9640" stroke="#6e7478" stroke-opacity="0.6" stroke-width="0.8"/>
<path d="M560.0,499.6 562.5,498.8 563.9,503.1 564.4,508.7 563.2,514.2 560.3,515.0 558.2,512.3 556.2,511.5 553.5,508.5 553.2,502.1 555.4,497.6 558.3,499.2Z" fill="#febb56" stroke="#6e7478" stroke-opacity="0.6" stroke-width="0.8"/>
<path d="M570.2,507.5 568.5,504.8 570.6,502.3 574.0,501.1 577.4,499.9 581.7,500.0 581.9,503.3 582.6,505.1 584.5,508.0 581.9,510.7 576.9,510.2 574.4,507.9Z" fill="#fd9640" stroke="#6e7478" stroke-opacity="0.6" stroke-width="0.8"/>
<path d="M478.8,516.1 477.0,517.8 475.0,518.8 472.9,518.2 471.2,517.1 469.9,515.2 469.7,512.6 471.3,510.6 473.5,509.6 475.5,511.0 477.1,512.0 478.3,513.7Z" fill="#fd7c37" stroke="#6e7478" stroke-opacity="0.6" stroke-width="0.8"/>
<path d="M494.9,509.9 496.3,508.2 498.6,508.7 502.3,508.5 503.3,511.3 501.0,513.4 498.4,513.4 497.8,515.2 495.1,516.9 492.7,515.3 492.2,512.9 493.9,511.2Z" fill="#fd7c37" stroke="#6e7478" stroke-opacity="0.6" stroke-width="0.8"/>
<path d="M500.4,504.7 505.2,503.3 508.5,506.3 510.5,507.6 512.9,509.1 512.7,511.3 509.4,512.5 506.1,513.7 501.9,513.4 499.3,511.6 500.6,509.5 501.4,508.1Z" fill="#fd9640" stroke="#6e7478" stroke-opacity="0.6" stroke-width="0.8"/>
<path d="M519.4,507.2 523.7,509.5 523.7,513.2 522.0,515.5 523.3,519.2 519.0,520.6 514.6,519.7 511.5,518.1 506.5,516.4 508.3,513.0 512.7,511.9 514.9,510.3Z" fill="#fecf6b" stroke="#6e7478" stroke-opacity="0.6" stroke-width="0.8"/>
<path d="M522.5,511.5 522.6,510.4 523.3,508.7 526.1,507.7 528.6,509.2 529.2,510.5 531.3,511.3 530.9,512.6 529.8,514.2 526.8,514.3 524.8,513.3 522.5,512.9Z" fill="#fd9640" stroke="#6e7478" stroke-opacity="0.6" stroke-width="0.8"/>
<path d="M539.9,516.7 540.7,514.7 540.8,511.6 542.9,508.9 546.1,509.2 546.7,513.5 546.4,515.9 546.3,517.8 546.3,521.1 544.2,524.3 541.2,522.4 539.6,519.7Z" fill="#fd9640" stroke="#6e7478" stroke-opacity="0.6" stroke-width="0.8"/>
<path d="M547.5,507.0 551.0,506.7 553.7,507.8 559.8,507.0 563.3,510.8 559.1,514.4 553.8,514.2 551.8,515.4 548.7,516.1 544.3,515.4 540.8,512.2 543.5,508.6Z" fill="#fd9640" stroke="#6e7478" stroke-opacity="0.6" stroke-width="0.8"/>
<path d="M487.2,519.8 487.0,522.6 483.2,523.6 480.9,523.4 479.4,525.9 475.3,526.4 470.7,524.7 474.7,521.4 476.1,519.7 478.7,519.4 480.7,518.4 484.9,517.4Z" fill="#fea848" stroke="#6e7478" stroke-opacity="0.6" stroke-width="0.8"/>
<path d="M482.3,521.3 485.5,521.0 488.1,522.3 492.2,523.8 492.4,526.8 489.5,529.1 485.4,529.8 482.1,528.5 480.1,527.2 477.1,526.1 473.4,523.1 476.7,520.2Z" fill="#fea848" stroke="#6e7478" stroke-opacity="0.6" stroke-width="0.8"/>
<path d="M489.4,523.9 491.7,522.8 493.6,522.3 495.6,522.3 497.4,523.7 498.4,526.2 498.6,529.3 496.6,531.5 494.0,530.2 492.9,528.7 489.9,529.5 488.2,526.8Z" fill="#febb56" stroke="#6e7478" stroke-opacity="0.6" stroke-width="0.8"/>
<path d="M551.7,527.4 551.9,525.8 552.6,524.4 553.7,522.6 557.1,521.5 559.6,523.5 560.0,525.0 562.8,526.0 562.6,527.8 559.5,528.6 556.7,528.8 553.7,528.6Z" fill="#febb56" stroke="#6e7478" stroke-opacity="0.6" stroke-width="0.8"/>
<path d="M490.5,527.1 492.3,531.1 492.7,535.4 491.3,539.7 486.6,539.4 484.0,537.6 481.2,537.9 477.3,536.3 477.2,532.1 481.0,530.2 483.2,528.6 486.3,526.4Z" fill="#febb56" stroke="#6e7478" stroke-opacity="0.6" stroke-width="0.8"/>
<path d="M503.4,542.3 501.7,538.0 498.5,537.5 495.4,534.2 497.5,530.2 501.0,528.8 504.0,528.1 507.0,529.0 509.4,531.3 509.9,534.9 510.5,539.3 507.3,542.2Z" fill="#fede80" stroke="#6e7478" stroke-opacity="0.6" stroke-width="0.8"/>
<path d="M532.9,521.1 536.2,520.4 538.9,522.8 539.7,526.2 541.3,529.0 540.5,532.5 538.6,535.6 535.5,535.0 531.7,536.4 530.9,531.7 532.2,528.3 530.8,524.4Z" fill="#fecf6b" stroke="#6e7478" stroke-opacity="0.6" stroke-width="0.8"/>
<path d="M490.8,537.0 492.2,536.8 493.5,537.8 493.3,539.7 493.8,541.3 493.6,543.8 491.7,544.3 490.6,542.0 489.1,542.1 488.0,540.7 488.5,538.8 489.4,537.4Z" fill="#fea848" stroke="#6e7478" stroke-opacity="0.6" stroke-width="0.8"/>
<path d="M492.5,541.3 494.7,539.6 497.0,538.5 499.6,536.6 503.7,537.1 506.8,538.7 505.1,541.1 506.1,543.1 503.4,544.5 500.1,546.1 495.8,545.4 493.5,543.4Z" fill="#fecf6b" stroke="#6e7478" stroke-opacity="0.6" stroke-width="0.8"/>
<path d="M504.5,551.4 502.7,551.8 501.0,551.2 498.9,550.4 497.9,548.5 498.0,546.0 501.2,545.5 503.6,546.4 505.0,547.1 508.4,547.3 509.2,549.6 507.8,551.7Z" fill="#febb56" stroke="#6e7478" stroke-opacity="0.6" stroke-width="0.8"/>
<path d="M522.2,567.3 520.2,564.1 520.8,558.4 522.0,554.5 523.6,553.1 525.3,550.7 527.5,551.4 528.9,556.4 527.3,561.7 526.7,565.3 525.4,566.5 523.8,569.7Z" fill="#fede80" stroke="#6e7478" stroke-opacity="0.6" stroke-width="0.8"/>
<path d="M491.2,572.8 489.6,567.8 491.6,563.6 494.0,562.9 495.9,560.6 498.2,561.8 499.7,565.9 499.5,570.8 499.3,576.0 497.2,579.7 494.6,578.4 492.4,576.9Z" fill="#fecf6b" stroke="#6e7478" stroke-opacity="0.6" stroke-width="0.8"/>
<path d="M516.5,566.8 517.4,569.3 517.4,572.1 515.3,574.8 511.3,575.0 508.4,573.3 505.5,572.0 503.4,569.4 505.3,566.8 508.4,565.7 511.1,563.7 514.7,564.4Z" fill="#fea848" stroke="#6e7478" stroke-opacity="0.6" stroke-width="0.8"/>
<path d="M520.4,561.6 523.0,563.1 523.4,568.1 522.7,573.1 519.8,573.2 517.9,575.4 515.5,574.4 513.6,571.1 513.8,566.3 514.0,561.3 516.1,558.1 518.6,562.4Z" fill="#ffe895" stroke="#6e7478" stroke-opacity="0.6" stroke-width="0.8"/>
<path d="M520.7,565.9 523.0,564.6 524.5,563.2 527.5,558.4 531.9,559.9 531.9,565.2 528.4,568.0 528.0,569.9 527.0,572.8 523.9,574.7 520.3,573.2 518.0,569.6Z" fill="#fede80" stroke="#6e7478" stroke-opacity="0.6" stroke-width="0.8"/>
<path d="M540.2,570.7 538.1,568.3 537.4,566.1 534.4,562.7 541.1,561.3 547.1,562.6 551.4,563.1 558.5,563.7 560.4,566.7 554.6,568.8 550.0,569.4 546.0,570.7Z" fill="#fd9640" stroke="#6e7478" stroke-opacity="0.6" stroke-width="0.8"/>
<path d="M477.8,571.8 479.9,569.6 484.8,569.2 489.7,569.6 492.4,571.6 493.9,573.8 494.7,576.7 489.4,577.7 485.0,577.3 479.3,578.9 474.1,577.1 475.7,573.9Z" fill="#febb56" stroke="#6e7478" stroke-opacity="0.6" stroke-width="0.8"/>
<path d="M494.6,585.7 493.6,583.4 494.7,581.2 496.7,580.4 498.2,580.2 500.2,578.7 502.0,580.0 503.7,581.7 502.6,583.9 501.0,585.3 499.1,585.0 497.5,585.4Z" fill="#fea848" stroke="#6e7478" stroke-opacity="0.6" stroke-width="0.8"/>
<path d="M520.8,576.1 520.5,579.8 518.6,579.4 517.5,578.6 516.3,578.4 514.7,576.8 514.6,573.2 515.7,570.5 517.1,569.7 518.3,570.6 519.8,570.1 520.3,573.0Z" fill="#fecf6b" stroke="#6e7478" stroke-opacity="0.6" stroke-width="0.8"/>
<path d="M534.6,573.2 536.0,574.4 537.9,573.9 538.5,576.3 538.1,578.5 536.9,579.6 536.2,581.3 534.5,583.4 533.3,580.8 533.1,578.5 532.9,576.6 533.2,574.4Z" fill="#fea848" stroke="#6e7478" stroke-opacity="0.6" stroke-width="0.8"/>
<path d="M538.7,569.5 540.2,569.2 541.9,569.0 543.6,570.2 544.5,572.8 542.8,574.8 542.1,576.8 540.4,579.1 538.3,577.8 537.0,575.6 536.0,573.1 537.0,570.6Z" fill="#fea848" stroke="#6e7478" stroke-opacity="0.6" stroke-width="0.8"/>
<path d="M480.6,586.7 482.0,588.0 483.4,589.0 483.8,590.4 482.1,591.5 480.5,592.4 478.3,592.4 475.3,592.4 475.1,590.5 476.2,589.1 476.2,587.6 477.9,586.1Z" fill="#fecf6b" stroke="#6e7478" stroke-opacity="0.6" stroke-width="0.8"/>
<path d="M504.0,600.7 501.4,597.8 500.9,593.9 500.2,590.9 500.3,587.4 502.7,586.3 504.8,583.5 508.3,582.8 509.6,587.6 507.5,591.7 506.9,593.9 506.8,598.7Z" fill="#fea848" stroke="#6e7478" stroke-opacity="0.6" stroke-width="0.8"/>
<path d="M521.8,585.0 523.1,584.1 524.0,582.5 525.7,580.7 527.1,583.1 526.1,586.5 526.1,588.2 526.0,590.8 524.6,591.4 523.5,590.2 522.2,589.7 521.4,587.5Z" fill="#fd9640" stroke="#6e7478" stroke-opacity="0.6" stroke-width="0.8"/>
<path d="M478.9,600.7 478.7,602.4 476.0,603.7 472.7,602.6 471.3,601.4 469.3,600.7 469.4,599.4 469.7,597.9 472.6,597.4 475.8,596.9 478.8,597.7 477.1,599.7Z" fill="#fea848" stroke="#6e7478" stroke-opacity="0.6" stroke-width="0.8"/>
<path d="M483.4,596.6 485.8,597.2 486.0,599.0 483.6,599.8 482.3,600.0 481.3,601.5 478.5,602.1 477.7,600.2 478.3,598.7 478.9,597.7 480.0,596.9 481.6,596.9Z" fill="#fea848" stroke="#6e7478" stroke-opacity="0.6" stroke-width="0.8"/>
<path d="M499.6,592.9 501.5,594.7 502.8,597.4 501.2,601.0 494.8,601.9 490.8,598.6 490.7,596.2 484.4,595.2 483.1,591.8 488.4,589.9 493.6,589.5 497.3,591.5Z" fill="#fea848" stroke="#6e7478" stroke-opacity="0.6" stroke-width="0.8"/>
<path d="M501.3,605.7 500.3,603.0 499.4,599.9 501.8,598.1 504.0,597.6 506.7,594.4 509.7,596.2 510.2,599.8 509.1,602.6 507.6,604.1 506.6,607.2 503.5,608.4Z" fill="#fecf6b" stroke="#6e7478" stroke-opacity="0.6" stroke-width="0.8"/>
<path d="M521.6,602.6 519.3,604.2 516.6,604.1 512.9,605.7 510.2,603.5 511.0,600.4 511.3,597.9 514.1,597.0 516.4,596.2 520.1,594.9 522.4,597.3 523.2,600.2Z" fill="#fea848" stroke="#6e7478" stroke-opacity="0.6" stroke-width="0.8"/>
<path d="M475.8,613.3 473.2,614.9 469.4,614.2 466.6,613.1 465.6,611.5 467.2,610.2 469.4,609.5 471.0,607.5 475.9,606.6 477.8,608.9 475.6,610.9 476.1,611.9Z" fill="#fea848" stroke="#6e7478" stroke-opacity="0.6" stroke-width="0.8"/>
<path d="M485.4,617.7 484.8,622.2 482.9,623.9 481.2,621.6 480.4,617.9 479.7,614.6 479.9,610.7 480.6,606.2 482.6,605.9 484.0,608.1 485.4,610.1 486.4,613.9Z" fill="#febb56" stroke="#6e7478" stroke-opacity="0.6" stroke-width="0.8"/>
<path d="M482.6,622.5 482.9,618.6 482.6,616.2 482.3,613.1 484.0,608.9 488.6,609.3 491.2,612.5 490.9,615.6 493.7,617.8 493.7,621.5 490.8,624.8 486.1,625.0Z" fill="#fea848" stroke="#6e7478" stroke-opacity="0.6" stroke-width="0.8"/>
<path d="M481.2,312.7 479.8,311.1 481.0,309.5 482.6,308.5 484.4,308.4 486.2,308.7 487.9,309.8 487.9,311.7 487.6,313.6 485.8,314.7 483.9,314.1 482.7,313.3Z" fill="#fea848" stroke="#6e7478" stroke-opacity="0.6" stroke-width="0.8"/>
<path d="M506.9,304.0 510.5,302.3 515.0,303.1 516.5,305.3 518.3,306.9 517.4,308.7 515.6,310.4 512.0,311.2 508.1,310.8 503.3,310.2 506.1,307.5 506.4,306.1Z" fill="#fd9640" stroke="#6e7478" stroke-opacity="0.6" stroke-width="0.8"/>
<path d="M538.9,296.4 542.0,299.1 543.4,301.6 540.1,303.6 541.7,306.2 539.8,309.5 534.9,309.9 531.3,307.6 530.5,304.6 533.2,302.6 532.2,300.1 534.1,296.9Z" fill="#fd7c37" stroke="#6e7478" stroke-opacity="0.6" stroke-width="0.8"/>
<path d="M547.3,305.3 550.4,304.0 553.1,305.7 556.1,307.0 556.5,309.6 554.2,311.4 551.7,311.9 549.6,313.4 545.2,314.6 544.2,311.4 545.2,309.0 545.6,307.1Z" fill="#fc5d2e" stroke="#6e7478" stroke-opacity="0.6" stroke-width="0.8"/>
<path d="M564.9,298.1 567.4,295.2 570.0,298.7 569.9,301.9 571.0,302.7 572.8,304.9 572.1,307.9 569.4,308.9 567.1,307.7 565.4,306.0 566.0,303.6 565.7,301.9Z" fill="#fc5d2e" stroke="#6e7478" stroke-opacity="0.6" stroke-width="0.8"/>
<path d="M584.1,303.7 586.6,303.0 588.9,305.2 587.8,309.3 586.8,311.8 586.1,315.5 583.7,315.9 581.8,314.2 579.9,312.2 579.2,308.7 579.7,304.8 582.2,303.9Z" fill="#fd9640" stroke="#6e7478" stroke-opacity="0.6" stroke-width="0.8"/>
<path d="M605.4,306.4 603.4,304.5 602.9,300.9 605.3,299.0 607.1,297.8 609.3,296.4 612.1,297.2 611.8,301.2 612.8,304.1 611.8,307.2 609.5,308.6 607.1,308.4Z" fill="#fc5d2e" stroke="#6e7478" stroke-opacity="0.6" stroke-width="0.8"/>
<path d="M641.9,311.3 643.9,308.7 645.6,307.6 646.8,305.9 649.4,304.0 652.0,305.7 651.9,308.8 651.9,311.1 650.2,312.5 648.7,313.8 646.3,314.8 643.7,313.7Z" fill="#f54026" stroke="#6e7478" stroke-opacity="0.6" stroke-width="0.8"/>
<path d="M693.8,303.8 694.5,300.4 697.3,298.4 698.6,303.4 698.7,305.3 700.5,306.3 701.2,309.1 699.9,312.1 697.2,312.1 695.1,310.9 694.8,308.0 695.7,306.3Z" fill="#fd7c37" stroke="#6e7478" stroke-opacity="0.6" stroke-width="0.8"/>
<path d="M720.3,306.2 718.7,304.4 719.8,302.6 721.4,301.3 723.5,300.0 726.8,299.6 730.2,300.4 732.3,302.2 730.1,304.1 728.1,305.0 727.0,307.2 723.2,307.7Z" fill="#fea848" stroke="#6e7478" stroke-opacity="0.6" stroke-width="0.8"/>
<path d="M483.8,325.9 482.3,324.9 482.6,323.3 483.9,321.6 486.4,321.9 488.0,323.0 488.6,324.2 488.7,325.4 488.9,326.8 487.9,328.7 485.5,328.0 483.6,327.6Z" fill="#fc5d2e" stroke="#6e7478" stroke-opacity="0.6" stroke-width="0.8"/>
<path d="M493.5,316.7 491.1,314.4 491.7,310.2 492.5,304.6 495.6,305.3 497.6,307.9 498.9,310.8 499.1,314.2 500.2,318.9 498.6,323.1 495.8,325.7 493.9,320.1Z" fill="#fc5d2e" stroke="#6e7478" stroke-opacity="0.6" stroke-width="0.8"/>
<path d="M532.6,323.1 530.0,322.8 526.5,322.6 526.6,319.0 526.6,316.1 528.6,314.3 530.9,312.7 533.8,312.5 536.4,314.2 537.1,317.2 536.5,319.9 534.4,321.4Z" fill="#fd7c37" stroke="#6e7478" stroke-opacity="0.6" stroke-width="0.8"/>
<path d="M560.1,323.0 556.3,323.4 554.5,319.2 554.7,315.6 556.1,313.3 556.9,311.4 558.2,307.0 561.7,307.2 564.8,309.4 563.5,314.1 561.6,316.0 561.8,318.8Z" fill="#f54026" stroke="#6e7478" stroke-opacity="0.6" stroke-width="0.8"/>
<path d="M589.4,316.8 591.3,316.8 593.3,316.4 595.0,317.2 596.9,318.5 595.7,320.2 593.7,320.8 592.2,321.4 590.2,321.5 588.2,320.9 588.6,319.3 587.8,317.9Z" fill="#fc5d2e" stroke="#6e7478" stroke-opacity="0.6" stroke-width="0.8"/>
<path d="M628.1,318.2 625.5,317.7 624.4,316.6 623.7,315.7 623.9,314.7 623.9,312.8 627.4,312.6 629.7,313.8 629.3,315.1 631.2,315.5 633.2,316.8 631.3,318.1Z" fill="#fd7c37" stroke="#6e7478" stroke-opacity="0.6" stroke-width="0.8"/>
<path d="M678.5,314.9 677.8,317.5 673.6,318.7 668.0,320.7 665.7,316.9 666.7,314.5 665.7,313.0 664.1,309.8 668.2,307.4 673.5,308.9 675.7,311.2 678.4,312.7Z" fill="#fc5d2e" stroke="#6e7478" stroke-opacity="0.6" stroke-width="0.8"/>
<path d="M685.8,315.5 683.2,317.3 680.3,318.4 677.0,320.2 671.3,320.6 665.9,318.9 667.8,315.7 670.5,313.8 674.3,313.5 676.7,311.6 683.6,309.4 687.2,312.5Z" fill="#fd9640" stroke="#6e7478" stroke-opacity="0.6" stroke-width="0.8"/>
<path d="M499.9,343.5 497.7,343.8 495.5,342.0 493.5,338.2 494.8,333.7 497.5,331.9 500.0,333.2 501.8,333.4 505.2,333.8 506.7,338.4 504.6,342.5 501.7,343.0Z" fill="#fc5d2e" stroke="#6e7478" stroke-opacity="0.6" stroke-width="0.8"/>
<path d="M516.5,332.7 519.6,334.0 521.9,335.8 522.6,338.1 519.5,339.8 516.1,340.4 512.2,341.6 508.0,340.5 507.3,337.9 508.9,336.0 509.4,334.0 512.1,331.7Z" fill="#fc5d2e" stroke="#6e7478" stroke-opacity="0.6" stroke-width="0.8"/>
<path d="M533.2,337.0 531.6,336.8 528.5,336.5 527.1,334.2 530.0,332.8 532.1,332.2 533.9,333.0 536.1,332.4 537.5,333.6 539.2,335.5 537.1,336.9 534.7,336.9Z" fill="#f54026" stroke="#6e7478" stroke-opacity="0.6" stroke-width="0.8"/>
<path d="M556.5,329.7 557.6,324.8 559.4,321.7 561.6,322.0 564.0,321.7 564.7,326.9 563.9,331.1 564.6,335.9 563.7,342.3 560.8,342.0 559.7,335.7 558.6,333.4Z" fill="#f54026" stroke="#6e7478" stroke-opacity="0.6" stroke-width="0.8"/>
<path d="M591.9,329.7 595.5,330.2 601.5,330.1 604.6,332.5 600.7,334.7 597.0,335.8 593.8,336.5 589.6,337.0 584.9,336.1 580.7,334.0 584.5,331.6 588.4,330.5Z" fill="#fc5d2e" stroke="#6e7478" stroke-opacity="0.6" stroke-width="0.8"/>
<path d="M618.1,331.3 621.5,330.7 625.6,331.1 628.0,333.1 626.0,335.3 626.1,337.4 622.8,338.2 619.4,338.8 616.3,337.8 613.8,336.3 614.0,334.2 614.7,332.1Z" fill="#f54026" stroke="#6e7478" stroke-opacity="0.6" stroke-width="0.8"/>
<path d="M633.9,332.2 632.7,330.6 631.9,328.8 631.5,326.3 633.7,325.4 635.3,324.8 636.9,325.2 638.9,325.8 639.4,328.1 638.5,330.0 637.5,331.6 635.7,331.7Z" fill="#f54026" stroke="#6e7478" stroke-opacity="0.6" stroke-width="0.8"/>
<path d="M675.0,339.7 671.5,338.4 671.4,335.3 673.3,332.8 677.0,333.3 678.8,333.3 681.3,332.8 685.3,333.6 686.3,336.9 683.7,339.4 680.1,339.4 678.0,338.5Z" fill="#fc5d2e" stroke="#6e7478" stroke-opacity="0.6" stroke-width="0.8"/>
<path d="M695.6,340.1 695.6,337.1 693.2,335.2 694.7,332.9 697.8,332.0 700.8,331.6 705.5,330.6 708.5,333.1 706.5,336.1 704.2,337.6 703.3,340.4 699.4,341.2Z" fill="#fd9640" stroke="#6e7478" stroke-opacity="0.6" stroke-width="0.8"/>
<path d="M518.1,342.9 520.7,344.4 521.8,346.7 521.8,349.2 517.9,349.8 515.5,351.0 512.7,350.3 510.5,349.1 508.2,347.2 510.2,345.3 512.0,343.7 514.9,343.6Z" fill="#fd7c37" stroke="#6e7478" stroke-opacity="0.6" stroke-width="0.8"/>
<path d="M530.5,354.8 528.1,353.5 527.3,349.4 529.5,346.7 530.8,344.4 532.6,344.8 534.8,343.9 536.0,346.8 536.0,350.0 536.6,353.9 534.7,356.5 532.4,355.3Z" fill="#fd7c37" stroke="#6e7478" stroke-opacity="0.6" stroke-width="0.8"/>
<path d="M578.2,351.9 578.7,350.4 579.7,349.3 581.0,348.7 582.7,348.4 584.5,349.2 584.3,351.1 584.1,352.5 583.4,354.0 582.0,355.3 580.4,354.1 579.2,353.2Z" fill="#fd7c37" stroke="#6e7478" stroke-opacity="0.6" stroke-width="0.8"/>
<path d="M620.8,345.3 622.7,346.3 622.2,349.3 620.6,350.2 619.8,350.6 619.0,351.7 617.6,352.0 616.8,350.0 616.7,347.5 617.6,345.6 618.9,345.8 619.6,346.5Z" fill="#fd7c37" stroke="#6e7478" stroke-opacity="0.6" stroke-width="0.8"/>
<path d="M661.9,344.7 657.9,343.8 654.8,343.0 653.8,341.4 652.3,339.7 653.8,337.9 658.0,337.6 661.2,338.0 663.7,338.8 666.0,339.9 666.0,341.5 664.2,342.8Z" fill="#fc5d2e" stroke="#6e7478" stroke-opacity="0.6" stroke-width="0.8"/>
<path d="M520.1,361.3 515.8,362.1 511.3,360.9 510.8,358.4 515.5,357.1 516.2,355.5 519.1,353.7 523.8,354.0 527.3,355.6 529.6,357.8 525.3,359.5 521.8,359.7Z" fill="#f54026" stroke="#6e7478" stroke-opacity="0.6" stroke-width="0.8"/>
<path d="M549.2,361.4 548.5,362.6 548.4,363.7 547.8,365.7 544.2,365.0 541.7,364.5 540.1,363.5 539.1,362.2 539.1,360.5 542.8,360.4 545.1,359.9 547.7,360.3Z" fill="#fd7c37" stroke="#6e7478" stroke-opacity="0.6" stroke-width="0.8"/>
<path d="M589.6,366.8 587.1,365.0 587.0,363.1 585.9,361.6 587.5,360.1 589.8,358.5 593.4,358.8 597.2,359.4 597.3,361.5 596.9,363.1 595.7,364.6 593.8,366.7Z" fill="#fea848" stroke="#6e7478" stroke-opacity="0.6" stroke-width="0.8"/>
<path d="M608.2,357.0 609.4,357.7 610.2,360.2 610.2,363.5 610.3,367.2 609.3,370.1 607.9,369.1 606.9,367.7 605.7,366.1 604.9,362.4 605.8,358.9 607.0,356.9Z" fill="#fea848" stroke="#6e7478" stroke-opacity="0.6" stroke-width="0.8"/>
<path d="M640.8,357.6 642.4,356.6 644.0,358.3 645.6,361.0 645.1,365.3 643.8,368.0 642.5,370.1 640.7,370.6 639.4,368.2 638.8,365.1 638.6,361.8 639.7,359.5Z" fill="#fea848" stroke="#6e7478" stroke-opacity="0.6" stroke-width="0.8"/>
<path d="M513.2,366.8 511.6,370.4 508.2,371.8 505.0,372.6 502.1,371.2 500.8,368.4 501.5,365.8 499.9,362.2 502.6,359.7 506.1,360.3 508.7,361.6 510.7,363.7Z" fill="#fd9640" stroke="#6e7478" stroke-opacity="0.6" stroke-width="0.8"/>
<path d="M525.7,370.8 524.0,369.9 524.9,368.6 525.8,367.7 526.9,366.8 528.7,366.5 530.7,366.8 531.5,368.1 532.0,369.4 530.4,370.3 529.4,371.5 527.4,371.3Z" fill="#fd7c37" stroke="#6e7478" stroke-opacity="0.6" stroke-width="0.8"/>
<path d="M568.4,373.6 567.0,379.5 564.0,378.6 562.3,374.0 563.6,368.9 564.4,366.4 564.4,362.0 566.4,359.2 569.3,359.2 569.8,364.8 571.6,368.1 569.9,371.6Z" fill="#fd9640" stroke="#6e7478" stroke-opacity="0.6" stroke-width="0.8"/>
<path d="M622.4,365.2 625.3,365.5 627.8,364.8 629.9,365.7 630.9,367.1 631.6,368.7 630.1,370.3 626.9,370.8 624.4,369.6 623.5,368.6 620.1,368.0 618.7,366.0Z" fill="#fd9640" stroke="#6e7478" stroke-opacity="0.6" stroke-width="0.8"/>
<path d="M627.8,364.1 631.1,362.0 636.2,362.2 640.9,360.9 644.6,362.8 645.1,365.2 644.1,367.1 643.9,369.8 639.1,370.3 635.0,369.7 631.9,368.4 628.0,366.8Z" fill="#fecf6b" stroke="#6e7478" stroke-opacity="0.6" stroke-width="0.8"/>
<path d="M655.9,377.5 654.5,376.5 652.3,377.1 650.4,375.8 650.7,373.5 651.6,371.4 653.7,370.4 655.8,371.3 656.9,372.6 659.0,373.4 660.5,375.8 659.1,378.2Z" fill="#fea848" stroke="#6e7478" stroke-opacity="0.6" stroke-width="0.8"/>
<path d="M490.9,389.2 490.8,390.8 489.8,392.0 488.6,393.1 487.1,392.6 484.9,393.1 484.1,391.3 485.0,389.7 485.3,388.4 486.6,387.7 488.3,387.0 489.7,388.0Z" fill="#fc5d2e" stroke="#6e7478" stroke-opacity="0.6" stroke-width="0.8"/>
<path d="M508.4,378.3 506.0,379.9 504.1,381.0 501.7,383.8 498.0,382.5 495.0,380.8 493.6,378.3 495.9,376.1 498.5,374.7 501.7,374.9 505.7,373.8 509.2,375.5Z" fill="#fd9640" stroke="#6e7478" stroke-opacity="0.6" stroke-width="0.8"/>
<path d="M515.4,378.7 515.5,382.2 516.4,385.0 516.8,390.1 515.1,393.6 512.9,394.0 511.8,389.0 511.8,385.5 510.3,382.5 509.6,376.0 511.9,372.7 514.2,375.8Z" fill="#f54026" stroke="#6e7478" stroke-opacity="0.6" stroke-width="0.8"/>
<path d="M527.3,377.1 528.6,378.2 534.7,378.6 535.8,381.2 530.5,382.3 526.3,381.1 524.3,381.7 519.2,382.4 517.7,380.4 517.6,378.2 520.5,376.6 524.3,376.1Z" fill="#f54026" stroke="#6e7478" stroke-opacity="0.6" stroke-width="0.8"/>
<path d="M539.5,381.1 542.0,381.2 542.8,385.3 543.9,387.1 545.8,390.5 545.1,395.1 542.0,395.5 539.6,394.6 538.7,391.6 536.9,389.9 535.8,386.3 537.4,383.3Z" fill="#fea848" stroke="#6e7478" stroke-opacity="0.6" stroke-width="0.8"/>
<path d="M544.4,382.6 543.9,381.0 545.1,379.7 546.2,378.8 547.6,377.5 549.6,378.0 551.6,378.8 551.0,380.6 550.7,381.9 550.2,383.5 548.2,384.3 545.7,384.3Z" fill="#fea848" stroke="#6e7478" stroke-opacity="0.6" stroke-width="0.8"/>
<path d="M617.2,388.6 615.8,387.1 614.3,384.3 613.7,379.0 615.4,375.8 616.6,373.3 618.2,370.4 620.0,372.3 620.4,377.5 620.9,381.8 620.4,386.4 618.8,388.5Z" fill="#f54026" stroke="#6e7478" stroke-opacity="0.6" stroke-width="0.8"/>
<path d="M630.5,386.2 628.5,386.7 626.0,386.8 625.2,385.4 624.3,384.3 624.7,383.0 626.2,382.1 628.3,381.9 630.4,382.2 631.9,383.0 633.6,384.1 631.8,385.3Z" fill="#fd9640" stroke="#6e7478" stroke-opacity="0.6" stroke-width="0.8"/>
<path d="M645.2,385.6 647.1,386.6 648.4,387.0 651.6,387.4 652.1,389.5 649.9,390.9 646.9,389.8 645.7,390.1 642.9,390.9 640.8,389.5 641.3,387.5 643.8,386.6Z" fill="#fc5d2e" stroke="#6e7478" stroke-opacity="0.6" stroke-width="0.8"/>
<path d="M655.7,377.5 657.7,377.8 659.2,375.5 662.2,374.7 664.5,377.9 664.5,382.6 661.9,385.2 659.3,384.8 657.8,385.2 655.1,386.3 653.3,383.4 652.4,379.2Z" fill="#fd7c37" stroke="#6e7478" stroke-opacity="0.6" stroke-width="0.8"/>
<path d="M520.5,397.8 521.4,401.9 519.2,405.0 516.7,405.5 514.7,408.2 511.4,408.3 509.7,404.4 510.6,400.3 511.4,397.2 513.4,395.3 515.8,394.1 518.7,394.6Z" fill="#fd7c37" stroke="#6e7478" stroke-opacity="0.6" stroke-width="0.8"/>
<path d="M548.7,388.3 550.2,389.9 551.7,392.4 549.8,394.5 548.8,396.7 546.8,398.8 544.2,397.9 542.7,395.3 542.8,392.4 542.3,389.3 544.3,387.3 546.7,387.3Z" fill="#fea848" stroke="#6e7478" stroke-opacity="0.6" stroke-width="0.8"/>
<path d="M583.5,402.2 583.1,400.2 583.1,396.9 584.6,394.7 586.5,395.8 587.3,398.7 587.4,400.9 587.4,402.8 588.0,406.8 586.2,408.7 584.2,407.8 583.4,404.6Z" fill="#fea848" stroke="#6e7478" stroke-opacity="0.6" stroke-width="0.8"/>
<path d="M618.0,397.7 615.7,398.8 612.3,399.3 609.8,398.0 606.6,397.1 605.6,395.1 608.5,393.6 611.8,393.4 614.3,393.2 618.6,392.6 619.7,394.6 618.9,396.2Z" fill="#fea848" stroke="#6e7478" stroke-opacity="0.6" stroke-width="0.8"/>
<path d="M627.1,395.8 628.7,396.8 630.5,398.2 632.1,401.0 627.3,401.2 624.6,399.6 623.0,399.7 618.5,399.9 617.1,397.7 619.3,395.8 622.7,395.4 625.0,395.1Z" fill="#fd7c37" stroke="#6e7478" stroke-opacity="0.6" stroke-width="0.8"/>
<path d="M640.1,397.8 636.8,398.3 633.9,396.4 634.0,393.0 633.7,390.2 635.0,387.1 638.4,386.5 641.7,386.2 644.2,388.5 644.6,391.5 645.4,394.7 643.0,396.9Z" fill="#fea848" stroke="#6e7478" stroke-opacity="0.6" stroke-width="0.8"/>
<path d="M670.1,406.9 668.0,402.8 666.6,401.6 665.4,399.1 664.4,395.0 665.8,391.6 667.9,391.0 669.7,390.0 671.6,391.7 672.3,395.4 672.1,399.0 671.7,403.0Z" fill="#fc5d2e" stroke="#6e7478" stroke-opacity="0.6" stroke-width="0.8"/>
<path d="M476.9,410.4 480.0,407.7 484.9,406.0 489.1,408.8 490.3,410.9 492.8,412.1 495.5,414.9 493.9,418.4 488.2,419.9 483.6,417.1 481.2,415.2 480.1,413.2Z" fill="#fc5d2e" stroke="#6e7478" stroke-opacity="0.6" stroke-width="0.8"/>
<path d="M505.4,411.5 506.5,409.6 509.0,408.4 511.9,408.4 513.7,409.8 516.1,410.4 518.1,412.2 516.3,414.0 514.3,415.6 511.0,415.6 508.6,414.6 506.9,413.2Z" fill="#fea848" stroke="#6e7478" stroke-opacity="0.6" stroke-width="0.8"/>
<path d="M554.8,408.1 551.8,409.1 548.5,408.7 546.6,407.2 545.1,405.7 543.9,403.5 545.4,401.2 549.7,401.2 552.2,402.9 554.7,403.2 557.8,404.5 557.9,406.8Z" fill="#fd7c37" stroke="#6e7478" stroke-opacity="0.6" stroke-width="0.8"/>
<path d="M563.3,408.4 563.8,411.3 563.1,414.2 561.5,415.5 559.7,417.0 557.7,416.0 557.1,412.3 557.4,409.3 558.3,407.1 559.3,404.9 561.2,402.3 563.0,404.7Z" fill="#fd7c37" stroke="#6e7478" stroke-opacity="0.6" stroke-width="0.8"/>
<path d="M601.7,406.7 605.4,405.6 609.4,406.6 612.3,409.1 608.7,411.3 604.9,411.8 602.6,411.8 599.8,412.7 593.8,413.1 592.0,410.2 597.0,408.2 599.9,407.7Z" fill="#fd7c37" stroke="#6e7478" stroke-opacity="0.6" stroke-width="0.8"/>
<path d="M612.8,409.7 613.6,407.8 615.3,407.4 617.0,406.5 619.5,406.3 621.4,408.5 620.6,411.4 617.8,412.0 617.0,412.9 615.3,415.6 612.2,415.6 612.4,411.9Z" fill="#fd9640" stroke="#6e7478" stroke-opacity="0.6" stroke-width="0.8"/>
<path d="M636.9,408.5 632.9,409.2 629.3,408.4 625.2,407.6 625.1,404.8 623.8,402.1 627.9,400.8 631.3,400.6 634.9,399.8 638.7,401.0 639.4,403.7 638.1,405.9Z" fill="#fea848" stroke="#6e7478" stroke-opacity="0.6" stroke-width="0.8"/>
<path d="M660.8,402.0 662.5,402.2 663.7,403.0 666.1,403.6 666.0,405.4 664.4,406.5 662.4,406.5 661.1,406.2 659.1,406.5 657.3,405.4 657.3,403.6 659.1,402.6Z" fill="#fea848" stroke="#6e7478" stroke-opacity="0.6" stroke-width="0.8"/>
<path d="M660.9,405.4 661.9,404.3 663.4,403.8 665.0,403.3 667.2,403.4 669.0,404.7 668.3,406.6 666.8,407.7 665.3,408.1 663.8,408.4 661.7,408.4 660.3,407.1Z" fill="#fd7c37" stroke="#6e7478" stroke-opacity="0.6" stroke-width="0.8"/>
<path d="M489.5,414.2 491.1,417.2 492.1,419.7 492.4,422.6 493.9,428.6 489.9,430.2 487.0,425.8 485.5,424.3 484.0,422.5 480.2,418.4 482.9,414.6 486.8,415.3Z" fill="#fd9640" stroke="#6e7478" stroke-opacity="0.6" stroke-width="0.8"/>
<path d="M522.9,425.0 524.2,426.2 524.4,427.8 523.1,429.1 521.3,430.0 519.5,429.0 517.9,428.8 514.7,428.2 514.4,426.1 517.0,425.0 519.4,425.3 521.0,424.4Z" fill="#fea848" stroke="#6e7478" stroke-opacity="0.6" stroke-width="0.8"/>
<path d="M572.5,422.8 575.3,423.1 577.6,424.1 581.5,425.5 579.7,427.7 575.2,427.8 573.3,429.2 569.5,429.6 566.6,428.2 566.6,426.1 567.6,424.4 568.3,422.0Z" fill="#fd7c37" stroke="#6e7478" stroke-opacity="0.6" stroke-width="0.8"/>
<path d="M633.2,424.9 631.6,427.1 631.1,428.0 632.4,431.3 629.6,432.6 627.3,430.5 626.6,428.7 625.9,427.4 625.3,425.6 626.7,424.0 628.8,423.0 631.7,422.8Z" fill="#fd9640" stroke="#6e7478" stroke-opacity="0.6" stroke-width="0.8"/>
<path d="M653.7,427.8 652.4,423.7 651.1,421.6 650.3,418.4 651.6,415.7 652.8,413.2 654.7,411.5 656.6,413.6 657.5,416.7 656.7,419.7 656.3,421.9 655.8,425.6Z" fill="#febb56" stroke="#6e7478" stroke-opacity="0.6" stroke-width="0.8"/>
<path d="M494.8,430.9 496.1,424.6 498.8,424.7 498.0,433.7 497.0,437.0 497.2,439.7 497.4,447.3 495.2,449.6 493.7,444.0 492.6,440.3 493.4,435.9 494.1,433.4Z" fill="#fd7c37" stroke="#6e7478" stroke-opacity="0.6" stroke-width="0.8"/>
<path d="M510.7,439.4 513.3,440.0 514.0,442.0 511.6,443.1 509.7,444.7 507.0,443.7 506.0,442.2 504.8,441.4 503.0,439.7 503.6,437.5 506.9,436.8 509.8,437.7Z" fill="#fd7c37" stroke="#6e7478" stroke-opacity="0.6" stroke-width="0.8"/>
<path d="M525.2,442.7 523.1,441.3 523.0,437.3 523.5,433.1 525.8,432.0 527.5,433.9 528.5,435.2 530.7,435.9 531.5,439.8 530.3,443.3 528.2,443.8 526.8,442.2Z" fill="#fd7c37" stroke="#6e7478" stroke-opacity="0.6" stroke-width="0.8"/>
<path d="M609.1,433.6 606.8,434.1 604.7,434.7 602.0,434.5 598.2,434.0 596.9,432.2 599.2,430.7 603.0,430.7 605.0,430.9 607.6,430.2 612.5,430.4 612.5,432.5Z" fill="#febb56" stroke="#6e7478" stroke-opacity="0.6" stroke-width="0.8"/>
<path d="M614.9,439.6 613.4,440.3 611.5,441.3 607.2,442.6 607.2,439.6 608.9,437.9 609.4,436.8 610.3,435.3 612.6,434.8 615.6,434.9 618.2,436.3 617.2,438.6Z" fill="#fd9640" stroke="#6e7478" stroke-opacity="0.6" stroke-width="0.8"/>
<path d="M620.1,440.2 619.0,438.4 620.7,436.7 623.6,435.8 627.2,434.6 631.1,435.4 634.3,436.9 633.4,439.0 633.5,441.1 630.0,442.4 625.8,442.5 622.3,441.6Z" fill="#febb56" stroke="#6e7478" stroke-opacity="0.6" stroke-width="0.8"/>
<path d="M502.2,171.6 503.6,170.2 506.3,169.7 508.3,169.0 511.2,168.7 514.5,169.3 513.3,171.2 512.2,172.3 511.2,173.3 509.2,174.5 506.0,174.2 504.1,173.0Z" fill="#fd9640" stroke="#6e7478" stroke-opacity="0.6" stroke-width="0.8"/>
<path d="M432.9,194.9 433.5,195.8 434.7,196.8 433.5,197.7 432.0,198.1 430.5,197.7 428.6,198.0 427.5,197.2 427.6,196.2 428.5,195.4 429.5,194.5 431.3,194.4Z" fill="#fc5d2e" stroke="#6e7478" stroke-opacity="0.6" stroke-width="0.8"/>
<path d="M444.7,197.6 445.3,194.0 446.1,192.4 446.6,190.8 447.5,188.4 449.0,188.5 450.2,191.5 449.5,195.7 448.7,198.0 447.6,197.9 446.8,201.3 445.2,201.6Z" fill="#fd9640" stroke="#6e7478" stroke-opacity="0.6" stroke-width="0.8"/>
<path d="M461.0,197.3 458.9,196.8 458.0,195.8 459.6,194.8 461.3,194.4 463.0,194.2 465.0,194.2 466.5,194.9 468.1,195.8 467.6,197.1 464.3,196.9 462.9,196.9Z" fill="#fd7c37" stroke="#6e7478" stroke-opacity="0.6" stroke-width="0.8"/>
<path d="M497.8,187.1 499.6,187.5 501.5,188.5 500.7,189.7 498.0,190.0 496.2,190.2 493.8,190.5 492.3,189.5 492.8,188.5 491.7,187.3 493.5,186.4 496.1,186.3Z" fill="#fea848" stroke="#6e7478" stroke-opacity="0.6" stroke-width="0.8"/>
<path d="M429.7,205.4 427.0,206.0 424.4,205.4 421.6,205.4 420.4,204.1 419.7,202.7 421.7,201.6 424.0,200.9 426.5,201.2 428.3,201.9 430.8,202.6 430.6,204.0Z" fill="#fd9640" stroke="#6e7478" stroke-opacity="0.6" stroke-width="0.8"/>
<path d="M451.7,209.3 452.7,210.5 454.4,211.1 454.7,212.3 453.7,213.5 452.0,214.1 449.8,214.5 448.6,213.2 447.7,212.4 447.0,211.3 447.8,210.1 449.4,208.9Z" fill="#fd9640" stroke="#6e7478" stroke-opacity="0.6" stroke-width="0.8"/>
<path d="M530.1,207.8 531.1,208.8 531.6,210.2 530.9,211.4 530.8,213.0 529.5,213.5 527.9,213.8 527.1,212.3 526.6,211.0 526.6,209.4 527.7,208.5 528.7,207.5Z" fill="#fd9640" stroke="#6e7478" stroke-opacity="0.6" stroke-width="0.8"/>
<path d="M434.2,224.2 431.3,223.7 430.0,222.8 427.4,223.0 425.2,221.9 425.6,220.4 428.5,219.8 430.6,219.3 433.0,219.4 434.2,220.5 436.1,221.5 437.2,223.2Z" fill="#fd9640" stroke="#6e7478" stroke-opacity="0.6" stroke-width="0.8"/>
<path d="M442.0,216.1 443.3,215.9 444.0,216.8 445.2,217.1 446.3,218.0 445.8,219.1 443.4,218.6 442.6,218.4 441.0,218.9 439.1,218.4 439.5,217.2 440.9,216.6Z" fill="#fd9640" stroke="#6e7478" stroke-opacity="0.6" stroke-width="0.8"/>
<path d="M502.2,225.6 499.5,227.0 496.5,226.0 494.6,225.6 492.2,225.1 491.4,223.3 492.3,221.5 493.8,220.0 496.2,218.6 498.6,220.3 499.2,221.9 500.3,223.1Z" fill="#fd7c37" stroke="#6e7478" stroke-opacity="0.6" stroke-width="0.8"/>
<path d="M563.5,226.1 563.9,227.2 563.1,228.0 562.3,228.5 561.5,228.8 560.2,229.2 560.0,227.7 560.2,226.7 560.4,225.8 560.7,224.4 561.9,225.0 562.7,225.5Z" fill="#fd9640" stroke="#6e7478" stroke-opacity="0.6" stroke-width="0.8"/>
<path d="M429.7,238.4 428.4,238.9 427.1,239.2 425.2,239.4 424.5,238.4 423.7,237.6 424.8,236.9 425.1,235.8 427.0,235.8 428.6,236.0 430.1,236.5 429.9,237.6Z" fill="#fd9640" stroke="#6e7478" stroke-opacity="0.6" stroke-width="0.8"/>
<path d="M475.6,240.5 474.7,239.4 474.5,237.9 474.2,236.6 474.3,235.0 475.1,233.4 476.4,232.8 477.2,234.7 477.9,235.9 477.9,237.5 477.9,239.4 477.0,241.2Z" fill="#fd9640" stroke="#6e7478" stroke-opacity="0.6" stroke-width="0.8"/>
<path d="M533.9,242.3 533.1,241.7 532.3,240.7 532.2,238.7 532.8,237.3 533.6,237.3 534.0,236.1 535.2,235.0 535.6,237.2 535.4,239.1 534.9,240.3 534.6,241.6Z" fill="#fc5d2e" stroke="#6e7478" stroke-opacity="0.6" stroke-width="0.8"/>
<path d="M563.3,233.9 565.3,235.8 566.2,237.3 567.6,238.8 566.5,240.5 564.8,242.8 560.9,242.7 558.9,240.6 559.4,238.9 558.0,237.8 556.5,235.3 559.0,233.0Z" fill="#fc5d2e" stroke="#6e7478" stroke-opacity="0.6" stroke-width="0.8"/>
<path d="M578.0,234.2 576.6,233.7 577.0,232.7 577.3,231.9 578.1,231.2 579.8,231.2 581.3,231.3 582.4,231.9 582.4,232.8 582.8,233.7 581.2,234.1 579.7,234.2Z" fill="#fd9640" stroke="#6e7478" stroke-opacity="0.6" stroke-width="0.8"/>
<path d="M599.7,232.5 601.1,232.5 602.7,232.6 603.8,233.2 604.4,234.2 601.9,234.4 601.0,234.8 599.5,235.0 597.9,234.8 597.1,234.0 596.7,233.2 598.2,232.7Z" fill="#fd9640" stroke="#6e7478" stroke-opacity="0.6" stroke-width="0.8"/>
<path d="M512.3,261.8 511.4,263.0 509.5,263.7 507.3,263.8 505.7,263.1 505.2,262.2 503.6,261.3 503.6,259.9 505.9,259.3 508.2,259.5 510.2,259.8 510.9,260.8Z" fill="#fd9640" stroke="#6e7478" stroke-opacity="0.6" stroke-width="0.8"/>
<path d="M528.0,244.1 529.0,245.0 528.2,246.2 528.8,247.3 528.3,249.0 526.3,250.0 525.0,248.0 524.8,246.9 523.5,246.2 523.3,244.7 524.5,243.5 526.4,243.2Z" fill="#fd9640" stroke="#6e7478" stroke-opacity="0.6" stroke-width="0.8"/>
<path d="M673.7,259.6 675.9,257.8 677.8,259.3 677.7,261.4 676.6,262.7 675.2,263.1 674.6,265.1 672.8,264.7 670.5,264.3 669.4,262.5 671.3,260.9 672.9,260.7Z" fill="#fd7c37" stroke="#6e7478" stroke-opacity="0.6" stroke-width="0.8"/>
<path d="M433.4,272.7 433.3,275.4 433.0,278.2 431.9,280.3 430.3,278.9 428.9,278.8 428.0,276.8 428.0,274.3 428.5,272.2 429.3,269.8 430.9,269.2 432.1,271.2Z" fill="#fd9640" stroke="#6e7478" stroke-opacity="0.6" stroke-width="0.8"/>
<path d="M454.5,271.9 453.1,271.3 448.7,272.5 445.5,271.0 447.4,269.0 450.1,267.9 452.7,267.2 455.1,268.1 457.7,268.3 461.1,269.3 461.4,271.4 458.2,272.7Z" fill="#fea848" stroke="#6e7478" stroke-opacity="0.6" stroke-width="0.8"/>
<path d="M542.7,260.3 544.0,260.8 543.9,263.1 544.2,265.3 543.0,266.3 542.1,267.0 541.0,267.4 539.7,266.5 539.5,264.1 539.9,262.0 540.9,261.1 541.7,259.9Z" fill="#fd9640" stroke="#6e7478" stroke-opacity="0.6" stroke-width="0.8"/>
<path d="M588.0,272.3 585.7,272.3 584.2,270.6 583.7,268.9 583.1,267.0 583.8,264.9 586.2,264.7 588.1,264.8 589.4,266.1 590.3,267.5 590.7,269.2 589.7,270.8Z" fill="#fd9640" stroke="#6e7478" stroke-opacity="0.6" stroke-width="0.8"/>
<path d="M672.3,267.4 672.3,270.1 672.0,272.4 670.7,272.7 670.0,274.0 668.8,274.1 666.7,274.0 667.1,270.4 669.0,269.3 669.1,267.7 669.9,265.8 671.4,264.9Z" fill="#fd9640" stroke="#6e7478" stroke-opacity="0.6" stroke-width="0.8"/>
<path d="M691.9,270.3 690.0,270.8 688.4,271.4 686.0,271.7 684.0,270.5 683.9,268.4 685.2,266.9 687.2,266.6 688.6,266.3 691.3,264.9 693.7,266.4 693.7,268.7Z" fill="#fd7c37" stroke="#6e7478" stroke-opacity="0.6" stroke-width="0.8"/>
<path d="M447.9,276.2 448.3,278.2 447.7,279.9 446.8,281.4 445.1,282.7 442.5,283.1 441.0,281.2 440.4,279.5 440.3,277.6 441.6,276.1 443.7,276.0 445.6,275.9Z" fill="#fd9640" stroke="#6e7478" stroke-opacity="0.6" stroke-width="0.8"/>
<path d="M457.0,287.9 454.6,287.9 453.2,286.7 452.1,285.2 453.7,283.9 456.1,283.3 458.4,283.8 460.3,284.1 462.0,284.9 464.1,286.5 461.8,287.7 459.1,287.9Z" fill="#fea848" stroke="#6e7478" stroke-opacity="0.6" stroke-width="0.8"/>
<path d="M493.3,287.6 495.0,288.1 497.1,289.6 497.0,292.7 495.9,295.3 493.9,296.2 492.2,294.6 490.2,295.2 489.1,293.1 487.5,290.1 490.3,288.7 491.9,288.2Z" fill="#fd9640" stroke="#6e7478" stroke-opacity="0.6" stroke-width="0.8"/>
<path d="M546.2,286.2 546.2,285.1 547.3,284.3 548.7,284.1 550.1,283.8 551.4,284.4 551.9,285.5 551.4,286.4 550.9,287.4 549.6,287.8 548.3,287.4 547.1,287.0Z" fill="#fd7c37" stroke="#6e7478" stroke-opacity="0.6" stroke-width="0.8"/>
<path d="M564.7,284.6 565.7,284.8 566.2,286.0 566.7,287.3 566.3,288.6 565.6,289.4 564.7,289.4 563.7,289.7 562.9,288.7 563.1,287.2 563.1,286.0 563.9,285.3Z" fill="#fd9640" stroke="#6e7478" stroke-opacity="0.6" stroke-width="0.8"/>
<path d="M600.0,293.8 599.1,293.1 598.8,291.9 599.5,290.8 600.7,290.7 601.7,290.2 602.8,290.6 603.4,291.7 603.3,292.8 602.7,293.7 601.8,294.2 600.7,294.7Z" fill="#fea848" stroke="#6e7478" stroke-opacity="0.6" stroke-width="0.8"/>
<path d="M714.6,285.8 713.5,288.3 712.1,287.2 711.1,284.9 712.0,282.2 712.4,280.8 712.5,278.0 713.8,276.9 715.5,276.8 716.1,280.0 715.1,282.5 715.1,284.2Z" fill="#fd9640" stroke="#6e7478" stroke-opacity="0.6" stroke-width="0.8"/>
<path d="M440.1,312.0 437.7,311.0 438.7,309.5 438.5,308.5 439.4,307.2 441.8,305.7 444.9,306.9 446.1,308.1 445.7,309.2 447.8,310.5 446.2,311.8 443.2,312.3Z" fill="#fd9640" stroke="#6e7478" stroke-opacity="0.6" stroke-width="0.8"/>
<path d="M542.2,300.9 540.4,301.1 540.1,297.0 539.0,295.8 538.7,293.2 539.0,290.1 540.9,291.2 542.2,288.7 544.0,289.6 544.2,293.2 542.8,295.5 543.2,298.4Z" fill="#f54026" stroke="#6e7478" stroke-opacity="0.6" stroke-width="0.8"/>
<path d="M563.4,304.5 561.4,304.2 559.8,305.4 557.5,304.9 556.0,302.9 555.6,300.3 558.4,299.2 560.4,299.7 561.6,299.6 563.6,299.4 565.9,300.8 565.9,303.4Z" fill="#fd9640" stroke="#6e7478" stroke-opacity="0.6" stroke-width="0.8"/>
<path d="M665.0,295.5 666.3,293.6 669.4,293.3 671.4,295.0 670.8,297.0 669.6,298.2 669.1,299.5 667.4,300.4 664.8,300.8 662.0,300.0 662.4,297.7 664.5,296.6Z" fill="#fd9640" stroke="#6e7478" stroke-opacity="0.6" stroke-width="0.8"/>
<path d="M418.5,316.2 415.5,316.3 414.3,316.2 413.0,316.7 410.8,316.7 409.9,315.5 409.9,314.0 411.9,313.3 413.6,313.3 414.8,313.6 416.6,313.6 418.9,314.5Z" fill="#fd9640" stroke="#6e7478" stroke-opacity="0.6" stroke-width="0.8"/>
<path d="M426.6,320.6 425.0,320.2 423.8,318.2 424.3,315.8 426.6,315.8 427.6,315.2 429.1,314.4 430.5,315.7 430.4,317.8 430.1,319.5 429.4,321.3 427.8,321.5Z" fill="#fd9640" stroke="#6e7478" stroke-opacity="0.6" stroke-width="0.8"/>
<path d="M462.8,321.1 463.6,321.9 464.0,323.3 464.2,324.9 463.8,326.4 463.0,327.6 462.1,327.2 461.1,326.9 460.5,325.4 460.4,323.5 461.0,321.9 461.9,321.3Z" fill="#fd9640" stroke="#6e7478" stroke-opacity="0.6" stroke-width="0.8"/>
<path d="M454.3,334.5 454.2,332.0 455.5,330.3 457.2,331.1 458.0,333.0 459.0,334.4 459.6,336.6 458.6,338.4 457.1,339.3 455.6,339.7 453.7,339.1 452.9,336.6Z" fill="#fd9640" stroke="#6e7478" stroke-opacity="0.6" stroke-width="0.8"/>
<path d="M470.9,333.5 472.4,333.0 473.6,332.8 475.2,332.0 477.0,332.5 479.6,333.0 478.2,334.1 476.5,334.6 475.1,334.6 473.7,335.8 471.3,335.5 470.7,334.4Z" fill="#fd9640" stroke="#6e7478" stroke-opacity="0.6" stroke-width="0.8"/>
<path d="M428.9,358.6 428.1,359.8 427.2,360.2 426.5,360.8 425.3,361.1 424.5,360.2 424.7,359.1 424.4,358.0 425.1,357.3 426.1,356.9 426.9,357.4 427.8,357.8Z" fill="#fd9640" stroke="#6e7478" stroke-opacity="0.6" stroke-width="0.8"/>
<path d="M461.5,357.9 460.8,356.9 461.1,355.6 461.0,354.7 461.2,353.4 462.1,353.0 462.9,353.9 463.5,354.4 463.8,355.3 463.7,356.4 463.1,356.9 462.4,357.4Z" fill="#fd9640" stroke="#6e7478" stroke-opacity="0.6" stroke-width="0.8"/>
<path d="M462.6,369.3 463.2,368.2 463.7,367.4 463.8,366.2 465.6,365.5 467.7,366.0 468.6,367.1 468.2,368.0 468.9,368.9 467.9,369.8 466.2,370.7 464.2,370.1Z" fill="#fc5d2e" stroke="#6e7478" stroke-opacity="0.6" stroke-width="0.8"/>
<path d="M455.1,388.6 452.7,387.8 451.7,386.3 452.2,384.9 453.3,383.4 456.0,383.1 458.9,382.6 460.0,384.3 461.2,385.4 462.4,386.9 460.6,388.3 457.9,389.0Z" fill="#fc5d2e" stroke="#6e7478" stroke-opacity="0.6" stroke-width="0.8"/>
<path d="M475.6,392.2 476.7,393.2 477.3,394.2 477.8,395.3 476.9,396.3 476.0,397.2 474.5,397.5 473.1,397.0 472.9,395.6 472.8,394.5 473.1,393.4 473.9,392.1Z" fill="#fea848" stroke="#6e7478" stroke-opacity="0.6" stroke-width="0.8"/>
<path d="M434.0,411.6 435.0,409.9 438.4,409.6 440.3,409.9 442.4,409.2 445.2,409.6 447.0,411.1 444.8,412.5 442.4,412.9 440.7,413.3 438.7,413.3 434.7,413.5Z" fill="#f54026" stroke="#6e7478" stroke-opacity="0.6" stroke-width="0.8"/>
<path d="M428.5,413.8 428.1,413.1 427.6,411.6 427.9,409.4 429.3,410.5 429.7,411.9 430.2,412.4 431.2,413.3 431.0,415.0 430.2,416.2 429.1,416.2 428.3,415.4Z" fill="#fd7c37" stroke="#6e7478" stroke-opacity="0.6" stroke-width="0.8"/>
<path d="M437.0,418.1 438.4,417.5 440.5,416.8 442.5,417.5 443.0,418.8 442.6,419.8 442.8,421.1 440.9,421.8 438.9,421.1 437.0,421.0 435.7,420.1 434.9,418.9Z" fill="#fd7c37" stroke="#6e7478" stroke-opacity="0.6" stroke-width="0.8"/>
</g>
<line x1="138.45" y1="60" x2="138.45" y2="690" stroke="#808080" stroke-opacity="0.6" stroke-width="1.3" stroke-dasharray="5.1 2.25"/>
<line x1="269.19" y1="60" x2="269.19" y2="690" stroke="#808080" stroke-opacity="0.6" stroke-width="1.3" stroke-dasharray="5.1 2.25"/>
<line x1="399.93" y1="60" x2="399.93" y2="690" stroke="#808080" stroke-opacity="0.6" stroke-width="1.3" stroke-dasharray="5.1 2.25"/>
<line x1="530.67" y1="60" x2="530.67" y2="690" stroke="#808080" stroke-opacity="0.6" stroke-width="1.3" stroke-dasharray="5.1 2.25"/>
<line x1="661.41" y1="60" x2="661.41" y2="690" stroke="#808080" stroke-opacity="0.6" stroke-width="1.3" stroke-dasharray="5.1 2.25"/>
<line x1="60" y1="122.89" x2="780" y2="122.89" stroke="#808080" stroke-opacity="0.6" stroke-width="1.3" stroke-dasharray="5.1 2.25"/>
<line x1="60" y1="201.40" x2="780" y2="201.40" stroke="#808080" stroke-opacity="0.6" stroke-width="1.3" stroke-dasharray="5.1 2.25"/>
<line x1="60" y1="279.91" x2="780" y2="279.91" stroke="#808080" stroke-opacity="0.6" stroke-width="1.3" stroke-dasharray="5.1 2.25"/>
<line x1="60" y1="358.42" x2="780" y2="358.42" stroke="#808080" stroke-opacity="0.6" stroke-width="1.3" stroke-dasharray="5.1 2.25"/>
<line x1="60" y1="436.93" x2="780" y2="436.93" stroke="#808080" stroke-opacity="0.6" stroke-width="1.3" stroke-dasharray="5.1 2.25"/>
<line x1="60" y1="515.44" x2="780" y2="515.44" stroke="#808080" stroke-opacity="0.6" stroke-width="1.3" stroke-dasharray="5.1 2.25"/>
<line x1="60" y1="593.95" x2="780" y2="593.95" stroke="#808080" stroke-opacity="0.6" stroke-width="1.3" stroke-dasharray="5.1 2.25"/>
<line x1="60" y1="672.46" x2="780" y2="672.46" stroke="#808080" stroke-opacity="0.6" stroke-width="1.3" stroke-dasharray="5.1 2.25"/>
<g fill="none" stroke="#000" stroke-linejoin="round" stroke-linecap="round">
<path d="M271.2,177.4 274.1,177.2 277.1,177.2 280.0,177.0 283.0,177.1 285.9,176.3 288.9,176.0 291.8,175.7 294.5,175.1 297.1,174.4 299.6,172.9 302.4,171.9 305.8,173.0 306.6,175.9 307.5,178.8 307.8,181.4 308.4,184.0 311.0,187.5 313.5,189.0 316.2,190.1 318.9,189.7 321.5,190.1 324.9,188.4 327.6,191.0 329.6,189.1 331.9,187.5 334.3,185.4 337.1,184.0 339.9,182.5 342.4,180.5 345.9,177.1 349.3,174.4 352.0,173.7 354.6,172.7 358.9,171.8 355.7,170.9 352.8,169.2 350.3,167.9 347.6,167.5 346.7,164.3 345.0,161.4 344.7,158.7 344.1,156.1 343.0,153.8 341.5,151.6 340.6,149.2 338.2,147.6 336.3,145.3 339.3,146.4 342.4,147.4 345.0,147.0 347.6,147.4 351.1,149.2 353.8,149.8 356.3,150.9 358.9,150.2 361.5,150.0 365.0,147.4 368.4,146.1 372.0,145.7 375.5,144.4 379.0,143.1 382.4,141.7 385.9,140.5 389.4,137.0 392.3,135.2 394.9,133.0 396.8,134.8 398.8,136.6 400.6,139.6 402.7,142.5 403.7,145.4 404.7,148.4 403.9,151.0 403.4,153.6 402.7,156.2 402.6,158.8 401.7,161.3 401.8,164.0 401.7,166.7 402.1,169.3 402.7,171.9 404.6,174.0 406.7,175.8 409.7,177.6 412.5,179.7 415.4,179.0 418.4,178.6 421.3,177.9 424.3,177.8 426.8,177.5 429.2,176.7 431.7,176.6 434.1,175.8 436.7,175.4 439.4,175.5 442.0,174.8 444.7,174.5 447.1,173.1 449.8,172.9 452.3,171.7 455.1,171.2 457.6,169.9 460.2,169.2 463.0,169.1 465.5,168.0 468.5,169.9 471.4,171.9 474.4,171.5 477.3,171.9 479.8,171.5 482.3,171.1 484.6,170.2 487.1,169.9 489.9,169.0 492.8,168.9 495.5,164.8 496.8,161.3 498.3,157.9 500.0,154.6 501.0,151.0 502.6,147.6 503.8,144.1 505.5,141.0 507.9,142.8 512.0,144.1 513.7,146.0 514.8,148.3 516.0,151.6 516.8,155.1 517.8,157.8 518.6,160.5 518.9,163.4 519.7,166.9 521.0,170.3 524.4,173.7 528.5,175.8 531.3,179.9 531.2,182.7 530.6,185.4 528.5,189.5 527.2,192.3 529.6,194.2 532.0,196.0 535.0,197.5 538.1,198.8 540.9,200.5 543.6,201.7 546.5,202.3 549.1,203.8 551.9,204.7 554.2,206.1 556.1,208.1 558.9,208.4 561.6,208.8 564.4,209.2 567.1,210.2 569.9,211.4 572.6,212.9 575.2,214.3 578.1,215.0 580.8,216.3 583.6,217.1 586.4,218.3 589.1,219.8 591.9,219.4 594.6,218.4 598.7,221.2 600.8,224.2 602.5,227.5 602.1,230.1 601.2,232.7 600.9,235.4 600.5,238.0 600.4,240.8 599.6,243.4 601.4,241.2 602.3,238.3 604.0,236.0 606.7,233.8 609.7,231.9 612.6,232.5 615.5,232.4 618.4,232.8 621.3,233.3 623.8,233.9 626.2,234.9 628.5,236.3 631.0,237.0 633.3,238.2 635.7,239.1 638.6,239.5 641.5,240.0 644.4,240.5 647.4,240.2 650.2,239.1 653.1,238.5 656.0,237.7 658.8,238.7 661.8,238.8 664.7,239.5 667.5,240.5 670.2,243.0 673.3,245.0 675.2,246.9 677.6,248.1 679.5,249.9 681.7,251.3 683.5,253.4 685.7,254.9 687.5,256.8 690.0,258.0 691.9,259.8 694.1,262.0 696.8,263.6 699.1,265.1 701.7,266.2 704.2,267.3 706.7,267.2 709.2,266.9 711.7,267.3 715.4,267.2 719.1,267.9 722.8,271.0 723.7,274.3 725.3,277.2 726.3,279.6 726.7,282.2 727.7,284.6 728.3,287.0 728.3,289.6 729.0,292.0 728.9,295.7 729.0,299.4 728.7,301.9 728.4,304.4 727.7,306.9 726.7,309.3 726.5,312.0 725.3,314.3 724.3,316.9 722.8,319.2 721.6,321.7 719.7,324.0 718.2,326.6 716.6,329.1 715.5,332.1 714.1,335.0 711.2,335.9 708.7,337.5 707.1,339.5 705.4,341.4 703.3,342.9 701.7,345.4 699.8,347.7 698.0,350.1 696.5,352.7 694.6,355.0 692.6,357.2 690.9,359.7 689.0,362.0 687.3,364.4 684.8,366.4 681.9,367.9 677.4,369.5 676.2,372.4 674.7,375.1 674.1,377.7 673.9,380.4 674.0,383.1 673.9,385.8 673.9,388.3 674.1,390.8 674.7,393.3 675.0,395.8 674.7,398.3 675.3,400.8 674.7,403.3 675.1,405.8 675.0,408.3 675.6,410.8 675.6,413.6 674.6,416.2 674.3,418.9 673.9,421.6 673.2,424.5 673.0,427.5 672.3,430.4 671.3,433.2 668.8,434.4 666.8,436.3 666.4,439.4 665.2,442.4 664.8,445.6 664.4,448.9 663.7,451.8 663.4,454.7 661.6,457.4 660.5,460.4 659.3,463.2 658.6,466.2 656.5,469.0 654.8,472.0 652.6,474.8 650.9,477.8 648.0,481.6 647.2,484.9 647.1,488.3 645.3,490.8 643.2,493.2 640.2,494.4 637.4,496.0 635.5,498.9 632.9,498.9 630.3,499.2 627.8,499.9 625.2,499.7 622.7,499.0 620.1,499.0 617.5,499.3 615.0,500.2 612.4,500.9 609.8,501.4 607.3,502.3 604.7,502.8 601.8,504.6 598.9,506.6 596.0,508.5 593.2,510.5 590.4,511.8 587.4,512.4 584.5,512.8 581.6,513.4 578.8,514.3 576.3,515.6 573.9,517.2 571.2,518.6 568.8,520.5 566.2,522.0 563.5,523.1 561.0,524.5 558.5,525.9 556.3,527.2 553.9,528.2 551.8,529.7 550.7,532.8 548.9,535.5 548.7,538.4 548.9,541.3 549.0,545.9 549.8,548.4 549.6,551.1 550.0,553.7 549.7,556.3 549.6,559.0 549.0,561.6 547.9,564.5 547.1,567.5 546.1,570.4 545.1,573.3 543.1,575.2 541.2,577.3 539.0,579.0 537.3,581.2 535.8,583.2 534.0,585.0 531.3,589.1 530.3,591.4 528.5,593.3 527.3,596.1 525.8,598.8 524.3,601.5 523.0,604.3 521.1,606.5 518.9,608.4 517.0,610.3 514.8,611.8 512.5,613.3 510.6,615.3 508.1,616.9 505.8,618.7 503.8,620.4 501.7,622.1 499.6,626.3 497.9,628.9 496.9,631.8 494.8,634.0 492.3,635.8 490.2,638.0 487.9,640.0 485.3,641.5 484.7,638.0 484.3,634.4 486.3,631.8 489.5,629.2 486.3,626.6 484.5,624.5 482.4,622.7 480.7,620.5 478.4,618.8 476.0,616.5 473.2,614.8 469.3,612.2 466.7,611.0 464.1,609.6 460.1,607.0 456.2,605.0 452.9,607.0 451.0,604.4 449.1,602.4 447.1,600.5 444.4,598.6 441.8,596.5 437.9,595.2 434.6,595.5 431.4,595.2 433.3,592.1 435.3,589.0 437.5,587.2 439.5,585.3 441.2,583.1 443.3,581.3 445.4,579.5 447.1,577.3 448.9,575.2 450.8,573.2 452.9,571.4 454.8,569.4 456.7,567.3 458.8,565.5 461.3,563.3 464.0,561.5 466.7,559.6 469.3,558.7 471.9,557.7 474.5,556.7 477.9,555.5 481.4,554.7 481.8,551.0 481.6,547.3 481.1,544.5 479.8,541.9 478.9,539.2 478.0,536.5 474.4,536.9 470.8,536.5 470.8,533.8 471.7,531.2 472.6,528.3 472.5,525.1 473.5,522.2 473.2,518.6 472.6,515.1 470.3,514.1 467.8,513.5 465.5,512.4 462.3,512.6 459.2,513.3 458.2,510.4 457.7,507.4 457.4,504.4 456.5,500.8 455.6,497.2 453.9,494.7 453.0,491.8 450.0,491.5 447.0,492.0 444.0,491.8 441.0,491.6 438.0,491.1 435.1,490.1 432.4,489.7 429.7,489.5 427.0,489.2 427.0,486.5 426.8,483.8 426.5,481.1 426.9,478.1 427.2,475.2 427.0,472.2 426.6,469.2 425.5,466.3 425.2,463.2 424.8,460.6 424.4,457.9 425.0,454.8 425.7,451.8 427.0,448.9 429.9,446.2 430.8,442.6 431.7,439.0 430.8,435.5 429.0,431.9 427.4,430.0 425.5,428.3 423.1,426.7 421.0,424.7 420.3,422.1 420.1,419.4 420.9,416.7 421.9,414.0 419.2,413.4 416.5,413.1 413.8,413.2 411.1,413.3 408.5,413.3 405.8,413.7 402.9,413.6 400.1,413.0 397.2,413.1 397.4,410.0 396.9,406.9 396.1,404.3 396.0,401.5 393.3,398.8 394.6,395.8 395.1,392.6 394.4,389.0 393.3,385.4 392.5,382.8 392.4,380.1 387.9,378.3 385.2,377.9 382.6,377.4 379.0,377.3 375.4,377.4 373.8,375.3 371.7,373.7 369.1,372.8 366.7,371.6 364.1,370.7 361.7,368.9 359.1,367.4 356.4,366.1 354.0,364.7 351.3,364.1 348.8,363.0 346.3,362.4 343.7,362.3 341.2,361.5 338.3,359.4 335.1,357.7 333.8,355.2 332.1,353.0 330.5,350.8 330.2,347.7 329.2,344.8 329.0,341.7 329.1,339.1 328.9,336.6 328.2,334.1 329.0,331.1 329.0,328.0 327.1,326.0 325.1,324.0 320.5,324.7 315.9,326.3 312.9,329.3 309.8,332.4 307.3,334.1 305.2,336.2 303.1,338.2 300.7,339.9 296.1,341.5 291.5,343.0 289.0,344.2 286.9,346.1 282.4,345.3 279.4,344.6 276.3,344.6 273.7,344.2 271.1,343.9 268.6,343.0 265.6,343.9 262.5,344.6 261.0,341.5 261.0,338.5 261.2,335.4 261.0,332.4 261.3,329.6 261.1,326.8 261.8,324.0 258.9,325.7 256.4,327.8 254.4,329.6 251.9,330.8 248.8,330.9 245.8,331.6 243.1,331.9 240.4,331.6 238.9,327.8 236.6,325.5 232.0,324.7 229.3,324.1 226.7,323.2 227.4,320.2 227.5,317.1 225.7,315.0 224.4,312.5 223.0,310.4 222.1,308.0 221.0,305.3 219.8,302.6 217.5,300.3 216.8,297.3 218.1,295.1 219.1,292.7 221.4,288.9 224.6,288.0 227.5,286.6 226.7,282.0 228.2,277.5 229.7,272.9 230.5,268.3 233.6,265.3 236.7,263.9 239.7,262.2 242.9,261.1 245.8,259.2 248.8,258.4 251.9,257.6 255.0,257.2 258.0,256.1 261.0,255.3 264.1,255.3 266.9,256.0 269.6,257.2 270.5,255.8 271.0,253.0 271.2,250.2 271.9,247.5 272.8,244.1 273.3,240.7 273.9,238.0 274.2,235.2 274.6,232.4 275.4,229.7 275.6,226.9 276.0,224.1 276.4,220.7 277.1,217.3 276.4,214.6 276.0,211.8 274.0,207.6 270.5,206.3 267.8,203.5 268.1,200.8 268.2,198.0 267.8,195.3 269.1,192.5 273.3,191.8 277.4,193.2 280.4,192.5 280.8,189.1 278.8,187.0 275.7,187.6 272.6,187.7 271.2,187.0 271.5,183.8 271.6,180.6 271.2,177.4Z" stroke-width="2.5"/>
</g>
<path d="M529.9,186.8 531.3,195.0 531.8,203.3 530.5,211.6 530.5,219.8 531.3,225.3 520.3,226.7 510.6,226.0 512.0,222.6 517.5,221.2 516.1,218.4 505.1,217.1 512.0,204.7 523.0,195.0Z" fill="#000" stroke="#000" stroke-width="1"/>
<path d="M514.1,598.1 518.9,597.0 522.3,596.7 522.3,601.5 520.9,604.9 517.5,608.4 514.1,611.8 510.6,614.6 506.5,617.3 503.1,619.4 501.0,618.0 501.7,615.3 504.4,611.1 507.9,609.1 510.6,607.0 512.7,604.3 514.1,600.8Z" fill="#000"/>
<path d="M515.4,599.4 519.6,598.8 520.3,601.5 518.2,604.3 515.4,606.3 512.7,609.8 509.3,612.5 505.8,615.3 504.4,613.9 505.8,611.8 509.9,609.8 512.7,606.3 514.8,602.9Z" fill="#fff"/>
<path d="M531.3,197.8 538.2,199.2 550.5,203.3 551.9,207.4 547.8,214.3 545.0,218.4" fill="none" stroke="#000" stroke-width="3.2" stroke-linejoin="round" stroke-linecap="round"/>
<path d="M531.3,224.0 542.3,222.6 551.9,218.4 558.8,221.2" fill="none" stroke="#000" stroke-width="3.2" stroke-linejoin="round" stroke-linecap="round"/>
<path d="M536.8,225.3 535.4,236.3" fill="none" stroke="#000" stroke-width="3.2" stroke-linejoin="round" stroke-linecap="round"/>
<circle cx="541.5" cy="209" r="1.4" fill="#000"/>
<circle cx="543.5" cy="211.5" r="1.2" fill="#000"/>
<circle cx="540.5" cy="212" r="1.0" fill="#000"/>
<g fill="none" stroke="#000" stroke-linejoin="round" stroke-linecap="round">
<path d="M98.9,71.5 99.8,74.5 99.2,79.1 99.3,81.7 99.4,84.3 99.1,86.9 98.9,89.5 99.6,92.4 99.8,95.4 102.4,92.8 107.0,91.5 111.6,92.8 115.5,94.1 117.5,98.0 120.7,100.6 122.4,97.4 124.2,98.7 125.0,103.3 126.6,105.9 130.5,105.2 135.1,104.2 138.1,103.3 135.8,100.2 133.1,97.4 131.8,94.1 134.4,92.1 137.3,90.6 139.4,87.6 141.6,84.3 144.9,83.0 148.8,82.7 152.7,85.0 156.0,87.6 158.0,90.2 159.3,93.5 161.2,96.1 163.9,100.0 165.8,103.9 167.1,106.5" stroke-width="2.5"/>
<path d="M167.1,106.5 168.1,103.8 169.0,101.0 170.0,98.0 171.0,95.0 171.6,92.6 171.5,90.0 172.4,87.6" stroke-width="2.5"/>
<path d="M172.4,87.6 170.7,85.6 168.4,84.3 165.8,82.3 163.2,80.4 160.6,79.2 158.0,77.8 155.4,76.9 152.7,76.5 150.1,75.9 147.5,75.4 143.6,75.2 140.3,77.1 138.4,79.1 134.4,81.0 131.8,82.0 129.2,83.0 126.5,84.1 124.0,85.6 120.8,86.0 117.5,85.6 115.2,83.9 112.9,82.3 109.6,81.0 107.0,79.1 105.0,77.2 103.1,75.2 101.3,73.0 98.9,71.5" stroke-width="2.5"/>
<path d="M172.4,87.6 176.0,90.0 179.0,93.0 180.1,95.5 178.0,95.5 176.5,92.0 177.5,89.5 179.9,88.0 181.8,86.0 184.3,84.1 187.1,82.6 190.5,79.1 194.0,77.3 195.8,73.8 195.8,70.9 195.8,68.0" stroke-width="2.5"/>
<path d="M167.1,106.5 167.9,109.6 170.5,113.1 171.7,115.6 172.2,118.3 172.3,121.8 172.2,125.3 171.4,128.7 171.5,132.2 172.2,135.7 172.3,139.2 173.1,142.7 174.0,145.3 175.0,147.8 175.7,150.5 174.6,152.8 173.1,154.9 171.3,157.4 169.6,160.1 167.5,163.0 166.1,166.2 163.1,167.0 160.0,167.1 156.6,168.8 155.7,172.0 156.1,174.0 154.5,176.6 151.2,179.9 152.8,183.5 150.2,184.4 147.9,185.7 145.5,186.9 142.9,187.3 140.1,188.8 137.1,189.8 136.9,193.1 136.3,196.4 135.5,200.5 133.7,202.5 132.2,204.7 133.0,209.6 130.2,211.4 127.2,212.9 126.5,216.2 125.6,219.5 125.9,222.0 126.4,224.5 125.9,227.1 124.8,229.4 128.1,232.7 130.5,234.1 133.0,235.2 137.1,236.0 139.6,232.7 139.6,227.8 140.3,230.7 140.4,233.6 140.0,236.4 139.6,239.3 137.7,241.9 135.5,244.3 134.9,246.8 133.8,249.2 133.0,251.7 132.2,254.2 132.7,256.7 133.0,259.2" stroke-width="2.5"/>
<path d="M133.8,245.1 130.5,246.8 128.5,248.5 126.4,250.1 124.4,252.2 122.3,254.2 121.4,256.7 120.6,259.2 120.6,264.1 122.1,266.5 123.1,269.1 123.8,271.9 123.9,274.8 122.3,278.1 124.8,282.3 127.4,283.0 130.0,283.5 132.3,285.1 134.7,286.5 136.9,288.2 139.4,289.4 140.7,291.8 141.9,294.2 143.8,296.2 144.8,298.8 146.4,301.0 147.6,303.5 148.9,305.9 150.7,307.9 152.1,310.3 153.4,312.7 154.0,315.2 155.5,317.3 155.8,319.9 156.8,322.2 158.1,324.4 159.6,326.6 160.6,329.0 161.4,331.5 163.0,333.7 164.3,336.0 165.1,338.5 166.0,341.0 167.5,343.1 168.4,345.6 169.8,347.8 171.5,350.0 172.7,352.4 173.9,354.9 175.8,356.9 176.8,359.5 178.4,361.7 179.5,364.3 180.7,366.7 182.0,369.1 183.8,371.2 185.3,373.4 186.1,375.9 187.3,378.2 186.1,382.9 187.1,385.4 188.4,387.6 189.5,390.0 190.8,392.3 192.9,394.0 194.8,395.7 196.7,397.6 198.6,399.4 200.2,401.6 202.5,403.0 204.9,404.4 207.2,405.9 209.7,406.9 211.9,408.6 214.3,409.5 216.7,410.7 218.7,412.4 221.0,413.7 223.5,414.5 225.7,416.0 228.3,416.5 230.7,417.6 232.7,419.5 235.2,420.3 237.6,421.7 239.8,423.3 242.3,424.4 244.6,425.9 246.9,427.3 249.2,429.6 251.6,431.9 253.9,434.3 256.2,435.9 258.9,437.1 261.0,439.0 263.5,440.0 263.7,442.6 263.9,445.2 264.5,447.8 265.1,451.0 265.2,454.3 265.5,457.6 265.6,460.9 266.3,464.2 266.5,467.5 267.0,470.0 267.3,472.6 267.3,475.2 267.6,477.8 267.7,480.5 266.6,483.0 266.7,485.7 266.1,488.3 265.9,490.9 265.7,493.5 264.7,496.1 264.3,498.7 263.7,501.4 260.8,503.3 260.8,507.3 262.7,510.2 262.3,513.7 261.8,517.1 261.7,519.7 261.8,522.3 261.8,524.9 261.8,527.9 262.7,530.8 261.0,533.6 259.8,536.7 260.0,539.3 259.4,541.9 259.8,544.5 259.1,547.4 258.8,550.4 257.6,553.3 256.9,556.3 256.9,560.2 254.9,564.1 253.9,568.0 252.7,570.9 252.0,573.9 250.6,576.4 249.0,578.8 249.2,581.3 250.0,583.7 250.2,586.7 251.0,589.6 250.0,593.5 248.4,595.6 247.1,597.8 247.1,600.4 247.4,603.1 248.0,605.7 247.9,608.3 248.4,610.9 249.0,613.5 249.1,616.1 249.2,618.8 249.9,621.3 249.7,624.0 249.3,626.6 248.5,629.2 248.0,631.8 247.9,634.5 247.1,637.1 246.4,639.7 246.3,642.3 246.3,644.9 245.8,647.5 244.0,650.0 242.4,652.7 240.8,655.4 239.2,658.0 238.0,660.6 236.2,663.0 235.2,665.7 234.0,668.4 232.5,670.9 231.2,673.5 229.7,676.1 228.8,678.9 227.8,681.7 226.1,684.0" stroke-width="2.5"/>
<path d="M152.8,183.5 155.2,185.1 157.8,186.5 160.5,187.8 163.3,188.5 166.0,189.8 168.5,191.4 171.0,193.1 173.7,194.4 175.9,196.4 178.4,195.7 180.9,195.5 183.3,194.8 185.9,194.8 188.2,196.0 190.1,197.8 192.5,198.9 195.8,200.5" stroke-width="2.5"/>
<path d="M195.8,200.5 198.2,203.0 199.0,205.5 199.9,208.0 199.1,212.9 198.2,215.4 197.4,217.9 195.4,220.1 194.1,222.8 191.6,225.3 189.2,227.8 186.7,229.1 184.7,231.0 182.5,232.7 179.7,233.5 177.2,235.3 174.3,236.0 171.5,237.0 168.7,238.0 166.0,239.3 163.8,242.1 161.1,244.3 159.1,246.5 157.8,249.2 157.2,252.6 156.1,255.9 154.5,259.2 152.8,262.5 151.4,264.7 149.5,266.6 147.0,265.4 144.6,264.1 142.9,260.0 140.5,258.7 138.0,257.5 135.6,258.7 133.0,259.2" stroke-width="2.5"/>
<path d="M195.8,200.5 199.0,201.7 202.4,202.2 204.9,203.8 207.3,205.5 208.9,208.0 210.6,210.4 212.8,211.8 215.5,213.9 218.3,215.9 222.4,218.6 223.9,221.3 225.1,224.1 226.0,226.8 226.5,229.6 230.6,232.4 234.1,232.5 237.5,232.4 240.3,231.3 243.0,230.0 245.8,229.0 249.9,231.0 252.7,230.5 255.4,229.6 258.2,230.8 260.9,232.4 263.8,233.4 266.4,235.2 267.8,236.5 266.6,238.9 265.4,241.3 263.6,243.4 262.5,245.9 260.7,247.9 259.5,250.3 263.0,251.6 266.4,253.0 267.7,255.3 269.6,257.2" stroke-width="2.5"/>
<path d="M228.9,68.0 227.8,71.3 227.1,74.7 226.2,77.5 224.5,79.9 228.9,79.9 232.4,83.4 233.3,86.2 235.0,88.7 235.5,91.4 236.7,93.9 236.7,97.4 235.9,100.9 237.6,104.3 241.1,107.0 244.6,108.7 248.1,109.1 251.5,108.7 255.0,108.2 258.5,107.8 262.0,108.2 265.5,108.7 269.0,111.3 270.4,114.1 272.5,116.5 275.9,120.0 279.4,119.4 282.9,119.2 286.1,119.4 289.3,119.6 292.0,119.7 294.6,119.1 297.2,118.6 299.8,118.3 302.4,120.9 300.7,123.3 299.8,126.1 298.7,128.6 298.0,131.3 297.2,134.0 297.5,136.6 297.1,139.2 297.2,141.8 297.2,144.4 298.3,146.9 299.3,149.5 299.8,152.3 301.1,154.9 302.4,157.5 301.4,159.8 299.8,161.9 298.5,164.0 302.4,166.7 305.0,170.6 305.8,173.0" stroke-width="2.5"/>
<path d="M241.1,71.2 241.8,73.9 242.8,76.5 244.6,79.9 248.1,82.6 250.7,81.7 253.3,80.8 255.0,76.5 254.4,73.9 254.2,71.2 249.8,69.5 247.2,69.4 244.6,69.5 241.1,71.2" stroke-width="2.5"/>
<path d="M357.0,68.0 359.6,68.9 362.2,69.2 364.8,69.8 367.5,69.9 369.4,71.9 371.4,73.8 374.3,74.7 377.3,74.8 382.2,74.8 384.5,76.2 387.1,76.8 388.0,80.7 386.1,83.6 384.1,86.6 381.1,86.9 378.2,87.6 382.2,89.5 384.6,88.8 387.1,88.5 389.9,87.7 392.9,87.6 395.8,88.4 398.8,88.5 402.7,90.5 405.5,92.2 408.6,93.5 410.5,95.2 412.6,96.7 414.5,98.4 416.6,100.7 418.4,103.3 418.7,106.2 419.4,109.1 418.4,112.5 417.5,116.0 419.0,113.6 420.4,111.1 423.3,112.2 426.3,113.1 429.1,115.2 432.2,117.0 434.3,118.8 436.1,120.9 438.0,121.9 440.7,122.0 443.2,123.0 445.9,122.9 448.5,123.6 451.1,123.8 453.7,123.8 456.3,123.1 458.9,122.8 461.6,122.9 464.2,122.7 466.8,122.8 469.4,122.9 472.0,123.3 474.7,123.1 477.3,123.8 479.9,124.8 482.6,125.4 485.1,126.8 487.7,128.0 489.9,129.9 492.4,131.3 494.9,132.7 496.8,134.7 498.9,136.5 500.8,138.5 503.2,139.7 505.5,141.0" stroke-width="2.5"/>
<path d="M398.8,89.1 399.8,91.5 396.9,94.4 394.6,96.1 392.0,97.4 391.0,101.3 392.9,105.2 393.9,108.2 391.5,109.8 389.0,111.1 386.5,111.9 384.1,113.1 383.1,117.0 381.9,119.9 381.2,122.9 383.4,124.6 385.1,126.8 387.3,128.5 389.0,130.7 392.0,133.6 394.9,133.0" stroke-width="2.5"/>
<path d="M438.0,121.9 437.3,125.3 437.1,128.7 435.4,130.6 433.6,132.5 432.2,134.6 430.4,136.7 428.2,138.5 427.3,141.5 426.3,144.4 427.0,147.3 427.3,150.3 428.5,153.4 430.2,156.2 432.2,158.1 434.1,160.1 435.9,163.1 438.0,166.0 438.6,169.1 440.0,171.9 442.0,174.8" stroke-width="2.5"/>
<path d="M477.3,123.8 475.3,126.8 474.0,129.8 472.4,132.7 471.9,135.6 471.4,138.5 472.1,141.5 473.3,144.4 475.0,147.6 477.3,150.3 477.0,152.9 476.8,155.6 476.3,158.2 476.2,161.2 475.3,164.0 474.0,166.8 473.3,169.9 471.4,171.9" stroke-width="2.5"/>
<path d="M275.0,343.1 276.7,345.8 278.1,348.7 279.2,351.8 281.1,354.7 283.1,357.6 284.1,359.9 284.9,362.3 286.1,364.5 284.8,367.0 283.1,369.4 282.6,372.6 282.9,376.0 282.2,379.2 282.8,381.8 282.7,384.5 283.1,387.1 281.5,390.2 279.2,392.9 278.4,395.9 277.3,398.8 278.1,401.8 279.2,404.7 277.3,408.6 278.6,411.1 280.2,413.5 284.1,414.5 281.2,418.4 279.9,420.5 278.2,422.4 276.5,424.6 274.3,426.3 271.4,430.2 270.4,433.1 269.1,436.1 267.5,439.0 263.5,440.0" stroke-width="2.5"/>
<path d="M271.4,430.2 274.3,430.2 276.1,433.3 278.2,436.1 279.3,439.0 280.2,442.0 281.2,444.5 281.4,447.2 282.2,449.8 284.6,451.8 287.1,453.7 289.0,455.7 287.1,459.6 286.2,462.5 286.1,465.5 286.2,468.5 287.1,471.4 288.2,473.9 289.4,477.0 291.2,479.8 292.2,482.7 293.1,485.7 293.8,488.4 295.3,490.8 296.1,493.5 296.8,496.4 297.1,499.4 300.4,499.3 303.6,499.8 306.9,499.4" stroke-width="2.5"/>
<path d="M306.9,499.4 308.7,496.6 309.8,493.5 313.7,490.6 317.6,487.6 320.6,488.4 323.5,489.6 326.3,489.5 329.0,489.5 331.8,489.5 334.5,489.5 337.3,489.6 340.2,491.6 341.0,494.2 341.8,496.7 342.2,499.4 343.7,496.5 345.1,493.5 346.8,491.2 348.0,488.6 350.9,488.6 353.9,488.9 356.8,488.7 359.8,488.3 362.7,488.6 365.7,490.6" stroke-width="2.5"/>
<path d="M365.7,490.6 366.9,487.7 368.0,484.8 368.6,481.8 368.9,478.8 369.6,475.9 369.3,473.1 369.8,470.4 371.3,468.0 372.8,465.6 374.3,463.2 376.6,461.9 379.0,460.9 381.0,459.3 383.2,457.9 386.3,457.0 389.1,455.1 392.2,454.3 395.2,453.9 398.2,453.6 401.1,452.9 404.1,452.7 407.1,452.9 410.1,453.4 412.4,454.5 414.7,455.5 417.2,456.1 419.8,457.0 421.9,458.6 424.4,459.7" stroke-width="2.5"/>
<path d="M365.7,490.6 368.4,492.8 370.7,495.4 372.3,497.9 374.2,500.3 376.1,502.6 378.5,504.2 380.7,506.0 382.6,508.1 385.0,509.7 387.7,510.8 390.3,512.2 393.1,513.0 395.8,514.2 398.8,515.0 401.6,516.4 404.7,516.9 406.8,518.4 409.2,519.5 411.4,520.9 413.6,522.2 415.8,523.5 418.0,524.6 420.2,525.9 422.6,526.7 425.0,527.5 427.2,528.8 429.7,529.4 431.5,533.9 429.6,536.9 427.9,540.1 425.5,541.7 423.5,543.7 422.8,546.3 422.6,549.0 420.1,551.5 418.1,554.4 419.0,558.0 421.5,558.5 424.0,558.8 426.5,558.7 429.0,558.7 431.5,558.9 434.0,559.3 436.5,559.5 439.0,559.4 441.5,559.5 444.0,559.8 446.9,558.9 450.0,558.8 453.0,558.0 456.7,557.5 460.1,556.2 462.4,554.3 464.7,552.4 467.3,550.8 467.9,548.3 469.0,546.0 469.9,543.7 470.2,540.1 470.8,536.5" stroke-width="2.5"/>
<path d="M306.9,499.4 307.8,502.4 306.4,505.2 305.9,508.2 305.3,511.8 303.9,515.1 301.4,516.2 298.8,517.4 296.1,518.0 293.7,519.2 291.4,520.5 289.2,522.0 287.3,525.9 290.2,528.8 287.3,532.7 288.0,535.6 288.2,538.6 289.6,541.4 290.2,544.5 289.2,548.4 290.2,550.8 291.2,553.3 288.2,554.2 285.3,555.3 283.5,557.6 282.4,560.2 281.3,563.3 279.4,566.1 278.0,568.3 276.4,570.2 274.5,572.0 273.3,575.0 271.6,577.8 270.3,580.9 268.6,583.7 268.9,586.7 269.6,589.6 270.0,592.6 270.6,595.5 269.3,597.8 267.8,599.9 266.2,601.9 264.5,603.9 262.7,605.7 262.6,608.3 261.6,610.9 261.4,613.5 262.6,616.1 263.4,618.8 264.1,621.5 265.4,624.0 266.4,626.6 267.6,629.1 268.0,631.9 269.3,634.4 269.4,637.1 270.3,639.6 270.6,642.3 270.1,644.9 269.3,647.4 269.3,650.1 267.6,652.7 266.0,655.5 264.1,658.0 263.1,660.8 261.4,663.2 261.4,665.9 262.0,668.4 262.7,671.0 260.8,673.7 258.8,676.3 257.0,678.9 255.3,681.4 253.6,684.0" stroke-width="2.5"/>
<path d="M431.4,595.2 429.6,597.3 427.5,599.2 426.7,602.4 426.8,605.7 425.7,608.9 424.8,612.2 424.4,615.5 423.5,618.8 424.3,622.0 424.2,625.3 424.0,627.9 423.8,630.5 423.5,633.1 420.3,634.4 419.4,637.0 419.0,639.7 419.1,642.3 419.6,644.9 419.0,648.8 420.9,652.7 423.4,654.8 426.1,656.7 428.9,658.4 431.4,660.6 433.6,662.3 435.3,664.5 434.0,668.4 433.3,671.0 435.1,672.9 436.6,675.0 439.3,675.4 441.8,676.3 442.5,680.2 443.1,684.0" stroke-width="2.5"/>
<path d="M420.9,646.2 423.3,648.4 426.1,650.1 429.4,650.8 432.7,651.4 435.9,652.9 439.2,654.1 442.1,655.6 445.4,656.0 448.4,657.3 451.7,656.7 454.9,656.0 457.6,656.0 460.1,656.9 462.8,656.5 465.4,657.3 468.1,656.7 470.7,655.9 473.2,654.7 476.0,653.3 478.4,651.4 480.1,649.2 482.4,647.5 483.7,644.4 485.3,641.5" stroke-width="2.5"/>
<path d="M354.6,172.7 356.3,173.6 358.8,175.5 361.5,177.1 362.9,179.3 363.8,181.7 365.0,184.0 365.6,186.9 365.9,189.9 366.8,192.7 367.4,195.3 367.9,198.0 368.9,200.5 369.4,203.2 368.8,206.7 368.5,210.2 370.3,212.8 372.0,215.4 374.2,217.3 376.8,218.7 379.0,220.6 380.3,217.8 381.2,214.7 382.5,211.9 385.1,210.6 387.7,209.3 390.3,209.8 392.9,210.2 395.5,206.7 396.6,203.1 398.1,199.7 401.6,197.1 404.7,197.1 407.7,196.7 410.7,196.5 413.8,196.5" stroke-width="2.0"/>
<path d="M413.8,196.5 413.5,194.0 413.7,191.4 413.8,188.9 413.8,186.4 413.3,183.0 412.5,179.7" stroke-width="2.0"/>
<path d="M413.8,196.5 413.9,200.2 413.8,203.8 415.1,206.7 416.9,209.4 418.1,212.4 420.5,214.3 422.9,216.2 425.3,218.2 427.5,219.6 429.9,220.7 432.2,221.8 434.7,222.6 436.9,224.0 439.8,224.8 442.6,225.8 445.6,226.4 448.4,227.4 449.9,228.3 448.7,230.5 447.7,232.8 446.8,235.2 445.1,237.2 444.1,239.5 443.2,242.0 441.9,244.1 440.9,246.5 439.7,248.7 438.5,250.9 437.5,253.3 436.4,255.5 435.2,257.8 434.0,260.0 432.8,262.5 431.9,265.1 430.9,267.6 429.6,270.0 428.0,272.5 426.7,275.1 425.1,277.6 423.3,280.5 422.0,283.7 420.5,286.4 419.0,289.1 420.4,292.0 422.1,294.7 423.5,297.5" stroke-width="2.0"/>
<path d="M423.5,297.5 422.9,300.1 423.0,302.8 422.6,305.5 422.0,308.1 421.5,311.8 420.5,315.4 417.9,315.3 415.4,315.3 412.8,315.6 410.2,315.5 407.6,315.2 405.1,315.3 402.5,315.6 399.9,315.6 397.3,315.6 394.8,315.6 392.2,315.5 389.6,315.7 387.0,315.1 384.4,315.4 381.9,315.4 379.3,315.4" stroke-width="2.0"/>
<path d="M423.5,297.5 425.0,300.1 426.4,302.6 428.1,305.1 429.0,307.7 430.2,310.1 431.2,312.7 433.5,314.9 435.7,317.3 437.7,319.4 439.9,321.4 441.7,323.8 444.3,323.9 446.8,324.2 449.3,324.5 451.9,324.6 454.5,324.6 457.0,324.7 459.6,324.5 462.1,324.9 464.7,325.0 467.2,325.4 469.8,325.2 472.3,325.5 474.9,325.7 477.4,326.0 480.0,326.0 482.5,326.4 485.0,326.4 487.6,326.3 490.1,326.9 492.6,327.2 495.1,327.1 497.6,327.2 500.1,327.5 502.7,327.4 505.2,328.0 507.7,328.3 510.2,328.2 512.7,328.5 515.2,328.8 517.8,328.6 520.2,329.2 522.8,329.2 525.3,329.3" stroke-width="2.0"/>
<path d="M379.3,317.3 377.8,315.0 373.2,315.0 370.8,313.6 368.6,311.9 366.2,310.2 364.1,308.1 361.7,306.7 359.5,305.1 357.0,305.3 354.4,305.4 351.9,305.8 349.7,307.8 347.3,309.7 345.8,314.2 342.7,317.3 340.1,317.5 337.6,318.4 335.1,318.8 332.8,320.4 330.5,321.9 326.0,324.0" stroke-width="2.0"/>
<path d="M218.3,294.2 221.2,294.8 223.8,296.1 226.8,296.4 229.4,297.7 232.3,298.3 235.1,299.1 237.8,299.6 240.4,300.1 243.2,300.5 245.8,301.1 248.3,301.6 250.8,302.0 253.4,302.2 255.9,302.3 258.5,302.3 261.0,303.0 263.5,303.0 266.0,303.6 268.6,303.7 270.6,305.2 272.4,307.0 274.2,308.7 276.3,310.2 278.7,312.0 280.8,314.1 283.3,315.8 285.4,317.9 288.0,318.9 290.4,320.2 292.6,321.8 295.0,323.0 297.6,324.0 300.0,325.0 302.5,325.7 304.9,326.8 307.3,327.7 309.8,328.5 310.5,331.5" stroke-width="2.0"/>
<path d="M379.3,317.3 379.0,320.4 378.5,323.4 378.7,325.9 378.9,328.5 379.3,331.0 379.2,334.1 378.5,337.1 378.9,339.6 379.1,342.2 379.3,344.7 382.4,344.5 385.4,344.6 388.5,344.7 391.1,344.9 393.8,344.9 396.4,345.3 399.1,345.5 400.7,349.3 400.0,352.4 399.1,355.4 399.9,358.5 400.7,361.5 400.0,364.6 399.1,367.6 397.5,370.6 396.1,373.7 394.8,377.0 393.0,380.0" stroke-width="2.0"/>
<path d="M468.6,172.0 471.4,174.2 474.4,176.3 476.7,177.9 478.6,180.1 480.9,181.7 483.1,183.5 484.5,185.7 486.0,187.8 487.3,190.1 488.8,192.2 490.2,194.4 491.6,196.6 493.0,198.8 494.6,200.9 496.1,203.0 497.3,205.4 498.8,207.5 500.4,209.5 501.9,212.4 503.8,215.0 506.5,216.4 508.5,214.0 510.6,211.6 512.7,209.5 514.8,207.4 517.5,203.3 519.8,201.5 522.3,199.8 524.4,197.8 528.5,195.0" stroke-width="2.0"/>
<path d="M580.9,216.0 579.5,219.3 578.1,222.6 577.4,226.0 576.7,229.4 576.0,232.9 575.3,236.3 574.6,239.1 574.6,242.1 574.3,245.0 573.6,247.8 572.0,250.0 570.5,252.3 569.2,254.6 567.8,257.0 566.4,259.3 564.0,260.1 561.8,261.2 559.4,262.0 557.2,263.5 555.2,265.4 552.9,266.9 550.6,268.3 548.4,269.9" stroke-width="2.0"/>
<path d="M548.4,269.9 550.6,272.7 552.8,275.4 552.1,278.3 551.6,281.3 550.6,284.2 548.3,286.3 546.2,288.6 544.0,290.8 542.7,293.8 541.2,296.7 539.6,299.6 541.8,304.0 540.4,307.0 539.0,309.9 537.4,312.8 535.4,315.2 532.8,317.0 530.8,319.4 529.1,322.2 527.8,325.2 526.4,328.2 525.4,330.9 524.8,333.7 523.7,336.4 523.1,339.2 523.0,341.9 522.5,344.5 522.4,347.1 522.0,349.7 522.0,352.4 522.2,355.0 521.8,357.7 522.2,360.3 522.0,363.0 522.0,365.6 524.2,370.0 522.5,372.8 521.5,376.0 519.8,378.8 518.5,381.8 517.0,384.7 515.4,387.6 514.0,390.6 512.7,393.6 511.0,396.4 509.3,398.5 507.9,400.7 506.6,403.0 504.4,405.2 502.3,407.5 500.0,409.6 497.8,411.8 495.6,414.0 492.5,417.3 491.4,420.0 490.2,422.6 488.6,425.1 488.4,427.7 488.7,430.3 488.6,432.9 489.6,435.5 490.4,438.3 491.6,440.8 493.7,443.0 496.1,444.7 498.4,446.7 500.9,447.5 503.3,448.5 505.7,449.9 508.2,450.6 511.1,452.1 514.2,453.0 517.1,454.5" stroke-width="2.0"/>
<path d="M548.4,269.9 551.2,269.8 553.9,269.3 556.6,269.1 559.4,268.8 560.7,272.0 561.6,275.4 562.1,278.4 562.8,281.3 563.8,284.2 563.1,287.0 562.1,289.7 561.5,292.5 560.5,295.2 561.9,298.6 563.8,301.8 567.2,302.6 570.4,304.0 572.7,305.5 574.8,307.3 573.6,310.0 572.6,312.8 573.4,315.7 573.8,318.7 574.8,321.6 575.3,324.6 576.1,327.5 577.0,330.4 579.2,332.3 581.0,334.6" stroke-width="2.0"/>
<path d="M581.0,334.6 579.6,337.6 578.1,340.5 577.0,343.6 577.8,346.5 578.7,349.4 579.2,352.4 579.0,355.4 578.6,358.3 578.1,361.2 578.3,364.1 579.0,367.0 579.2,370.0" stroke-width="2.0"/>
<path d="M524.2,367.8 527.6,368.7 530.8,370.0 533.8,370.6 536.6,371.6 539.6,372.2 542.5,372.4 545.5,372.1 548.4,372.2 551.3,373.0 554.2,373.9 557.2,374.4 560.1,373.7 563.0,372.8 566.0,372.2 569.2,370.7 571.7,370.4 574.2,370.6 576.7,370.3 579.2,370.0" stroke-width="2.0"/>
<path d="M579.2,370.0 579.6,372.5 579.8,375.0 580.5,378.0 581.4,381.0 582.4,384.2 582.9,387.5 582.3,390.0 582.4,392.6 582.1,395.1 581.7,397.7 581.4,400.4" stroke-width="2.0"/>
<path d="M581.4,400.4 579.4,398.6 577.2,397.1 575.3,395.1 572.2,398.1 571.6,400.7 571.3,403.3 570.7,405.8 568.4,408.0 566.0,410.0 565.4,412.6 565.1,415.3 565.7,417.9 565.9,420.5 566.1,423.1 565.4,426.0 565.1,429.0 565.3,431.6 565.2,434.3 565.1,436.9 562.5,437.5 559.9,438.3 557.3,438.8 554.0,438.9 550.7,439.2 547.5,439.8 545.1,440.6 542.6,440.8 540.0,441.2 537.6,441.8 534.3,442.2 531.0,442.1 527.8,442.7 524.9,444.7 522.0,446.7 520.7,449.6 519.0,452.2 517.5,455.0" stroke-width="2.0"/>
<path d="M553.3,403.5 556.2,403.6 559.2,403.4 562.1,403.6 565.1,403.5 564.9,406.9 565.1,410.4 562.1,410.4 559.2,410.4 556.2,410.2 553.3,410.4 553.4,406.9 553.3,403.5" stroke-width="2.0"/>
<path d="M429.0,432.8 431.7,432.4 434.4,431.9 437.1,430.7 439.6,429.0 442.0,428.1 444.5,427.7 446.9,426.6 449.4,426.1 451.8,426.9 454.3,427.4 456.8,428.2 459.2,429.0 462.1,429.7 465.1,430.2 468.0,430.7 471.0,431.0 473.6,430.8 476.2,431.0 478.8,431.0 481.8,427.1 482.4,430.0 482.7,432.9 485.1,434.9 487.6,436.9 489.6,438.8 491.6,440.8" stroke-width="2.0"/>
<path d="M517.1,454.5 516.3,457.8 515.0,460.8 514.0,464.0 512.5,466.3 511.2,468.8 509.6,471.1 508.6,473.7 507.0,476.0 505.6,478.2 504.2,480.4 502.4,482.3 501.0,484.4 499.4,486.5 497.3,488.3 495.2,490.2 492.9,491.7 491.0,493.8 488.7,495.4 486.2,497.0 483.9,499.0 481.6,500.8 480.1,503.2 478.5,505.4 477.1,507.9 476.8,510.6 476.2,513.3 472.6,515.1" stroke-width="2.0"/>
<path d="M484.0,498.0 486.9,497.1 489.9,496.6 492.9,495.8 495.9,495.4 498.4,495.5 500.9,495.8 503.4,496.0 505.9,496.0 508.4,496.3 511.3,497.2 514.3,497.7 517.0,498.9 520.0,499.5 522.9,499.4 525.8,499.6 528.7,499.6 531.6,499.9 532.8,502.2 534.0,504.5 535.4,506.6 536.2,509.6 537.6,512.3 538.4,515.3 539.3,518.2 541.3,521.1 543.1,524.0 545.7,525.1 548.1,526.8 550.8,527.8" stroke-width="2.0"/>
<path d="M482.0,543.5 485.1,543.6 488.1,544.2 491.1,544.7 494.1,544.9 497.0,545.6 500.0,545.5 503.0,546.1 505.9,546.5 508.5,547.1 511.1,547.1 513.7,547.8 516.3,546.4 519.1,545.4 521.6,543.9 524.1,543.3 526.6,543.0 529.1,542.6 531.6,542.3 534.5,542.0 537.3,541.5 540.2,541.3 543.1,541.3 546.0,541.6 548.9,541.3" stroke-width="2.0"/>
<path d="M481.4,554.7 483.9,555.3 486.5,555.6 489.0,555.7 491.6,556.2 494.1,556.7 497.0,557.5 500.0,558.0 503.0,558.9 505.9,559.6 508.2,561.3 510.8,562.5 513.3,563.9 515.7,565.5 518.5,567.7 521.6,569.4 524.5,571.0 527.5,572.4 531.4,574.3 534.0,577.0" stroke-width="2.0"/>
<path d="M517.5,457.0 520.0,460.4 522.6,460.1 525.1,460.3 527.7,460.4 530.6,460.7 533.5,460.6 536.4,461.1 539.3,461.4 542.1,463.9 545.0,466.2 547.6,465.4 550.2,464.3 552.7,463.3 555.3,463.2 557.8,462.7 560.4,462.4 563.3,463.3 566.2,464.3 566.6,466.9 567.5,469.4 568.1,472.0 569.9,474.7 572.1,477.0 573.9,479.7 574.6,482.2 575.4,484.8 575.8,487.4 576.4,490.6 577.3,493.8 577.8,497.0 581.6,499.9 584.4,498.8 587.4,498.0 590.2,496.8 593.2,496.0 595.8,495.3 598.3,494.6 600.9,494.1 603.5,493.1 606.1,492.4 608.6,491.2 611.2,490.7 613.8,490.1 616.3,489.3 618.8,488.2 621.4,487.3 624.0,486.4 627.2,484.7 630.7,483.5 632.3,480.7 633.6,477.8 635.5,473.9 636.7,471.3 638.0,468.7 639.4,466.2 641.1,463.1 643.2,460.4 644.0,457.8 645.0,455.2 646.1,452.7 646.4,450.1 647.0,447.6 647.1,445.0 647.2,442.1 647.1,439.3 649.9,437.2 652.8,435.4 654.3,433.2 656.0,431.0" stroke-width="2.0"/>
<path d="M635.5,474.9 638.1,475.3 640.6,476.4 643.2,476.8 645.6,478.2 648.0,479.7" stroke-width="2.0"/>
<path d="M600.5,494.5 602.0,498.0 604.5,501.5" stroke-width="2.0"/>
<path d="M581.4,400.4 583.8,399.2 586.0,397.9 588.3,396.6 590.5,395.1 592.9,393.3 595.5,391.9 598.1,390.5 601.1,388.9 604.2,387.5 607.3,387.6 610.3,388.2 611.9,392.0 614.9,392.6 618.0,392.8 621.1,393.9 624.1,395.1 626.6,396.3 629.2,397.1 631.7,398.1 634.3,398.4 636.8,399.1 639.3,399.7 641.7,401.8 643.9,404.2 646.5,404.5 649.0,405.1 651.5,405.8 654.0,406.9 656.7,407.5 659.1,408.8 661.5,410.3 663.7,411.9 662.2,414.2 660.7,416.4 659.1,418.7 657.6,421.0 656.5,423.6 655.0,426.0 655.4,428.5 656.0,431.0 658.4,432.7 660.7,434.7 662.9,436.4 665.2,437.8 667.0,437.0" stroke-width="2.0"/>
<path d="M640.3,239.4 638.2,240.7 636.3,242.4 634.2,243.7 632.0,245.0 629.7,247.2 627.0,249.2 624.7,251.4 623.6,255.0 622.3,258.5 622.4,262.1 622.3,265.7 621.5,269.3 621.2,272.9 622.3,275.2 623.0,277.7 622.8,281.4 622.3,285.0 620.0,287.4 617.6,289.7 614.0,290.5 610.4,290.9 607.7,292.4 604.9,293.6 602.0,294.5 598.6,295.6 595.3,296.9 593.1,299.0 590.8,301.1 588.6,303.1 586.6,305.5 585.6,308.4 584.4,311.3 583.1,314.1 582.3,317.1 582.3,319.6 581.8,322.1 581.6,324.6 581.3,327.1 581.2,329.6 581.3,332.1 581.0,334.6" stroke-width="2.0"/>
<path d="M642.5,240.0 643.4,242.5 644.5,245.0 645.1,247.4 645.3,249.9 645.8,252.4 646.1,254.9 646.8,257.8 647.0,260.7 647.3,263.6 647.8,266.5 648.2,269.3 648.6,272.2 649.1,275.1 649.6,278.0 649.8,280.9 650.7,283.3 651.5,285.8 652.3,288.3 653.7,290.7 654.7,293.3 653.7,296.3 652.9,299.4 652.4,301.9 651.9,304.5 651.0,306.9 648.6,309.4 646.1,311.8 644.8,314.3" stroke-width="2.0"/>
<path d="M581.0,334.6 583.4,335.5 585.8,336.3 588.1,337.4 590.5,338.4 592.9,339.3 595.3,340.2 598.2,339.6 601.0,338.5 604.0,338.0 606.9,337.3 608.6,334.9 610.1,332.5 612.0,330.3 613.6,327.9 615.5,325.7 618.4,325.0 621.3,324.4 624.2,323.6 627.1,322.9 629.4,321.6 631.6,320.4 633.9,319.2 636.3,318.2 638.6,317.1 641.8,315.9 644.8,314.3 647.3,316.2 649.8,318.0 651.2,320.4 652.3,323.0 655.4,322.4 658.5,321.7 660.4,319.5 662.6,317.6 664.6,315.5 667.1,314.0 669.6,312.4 672.6,313.6 675.8,314.3 678.9,315.5 682.0,316.8 685.7,319.2 688.2,323.0 690.7,322.4 693.2,322.0 695.6,321.1 698.4,321.7 701.3,322.0 704.2,322.3 707.3,321.2 710.4,319.9 713.5,318.6 716.6,317.4 719.1,316.9 721.5,316.4 724.0,316.1" stroke-width="2.0"/>
<path d="M686.0,322.0 688.7,323.8 691.5,325.4 694.4,326.8 697.1,328.3 699.6,330.2 702.6,331.3 705.1,333.1 707.1,335.2 708.7,337.5" stroke-width="2.0"/>
<path d="M686.0,322.0 687.0,324.8 688.1,327.6 689.0,330.4 688.2,333.1 687.3,335.8 686.4,338.7 686.3,341.8 685.5,344.7 687.4,346.6 689.2,348.7 690.8,350.9 694.4,354.0" stroke-width="2.0"/>
<path d="M692.5,264.8 690.9,267.9 689.4,271.0 688.3,273.5 686.9,275.9 684.4,279.6 681.3,281.5 685.7,282.1 688.7,281.2 691.9,280.9 694.7,280.6 697.4,280.3 695.0,284.6 696.8,287.7 699.3,287.9 701.8,288.3 705.5,285.8 708.0,283.4 711.7,284.6 715.4,285.0 719.1,285.8 722.0,286.2 724.8,286.8 727.7,287.1" stroke-width="2.0"/>
<path d="M681.3,281.5 679.5,285.8 679.2,288.9 678.9,292.0 680.1,295.7 678.5,297.9 677.0,300.1 673.3,302.5 676.4,302.2 679.5,301.9 682.7,301.2 685.7,300.1 688.9,299.1 691.9,297.6 694.3,296.9 696.8,296.3 697.4,300.7 698.1,303.1 698.7,305.6 701.8,308.1 704.4,307.1 706.7,305.6 709.2,304.3 711.7,303.2 714.2,302.5 716.7,301.6 719.1,300.7 722.0,299.8 724.9,298.9 727.7,297.6" stroke-width="2.0"/>
<path d="M673.3,302.5 670.3,300.8 667.1,299.4 664.0,299.0 660.9,298.2 657.8,297.8 654.7,297.6 652.9,299.4" stroke-width="2.0"/>
</g>
<circle cx="742.4" cy="251.5" r="0.9" fill="#000"/>
<circle cx="760.8" cy="251.8" r="1.5" fill="#000"/>
<circle cx="597.5" cy="504.3" r="1.6" fill="#000"/>
<circle cx="601.5" cy="503" r="1.5" fill="#000"/>
<circle cx="605" cy="501.6" r="1.4" fill="#000"/>
<circle cx="610" cy="500.2" r="1.2" fill="#000"/>
<circle cx="618.4" cy="498.6" r="1.8" fill="#000"/>
<circle cx="621.5" cy="499.6" r="1.3" fill="#000"/>
<circle cx="592.3" cy="511.8" r="1.3" fill="#000"/>
<circle cx="586.5" cy="515.8" r="0.9" fill="#000"/>
<circle cx="549" cy="527.5" r="1.6" fill="#000"/>
<circle cx="551" cy="530.5" r="1.4" fill="#000"/>
<circle cx="548.5" cy="533" r="1.2" fill="#000"/>
<circle cx="550.5" cy="561" r="1.3" fill="#000"/>
<circle cx="548.8" cy="565" r="1.0" fill="#000"/>
</g>
<rect x="61.5" y="67.5" width="714" height="616" fill="none" stroke="#000" stroke-width="3"/>
<rect x="822" y="644.00" width="30" height="39.00" fill="#fffac1" shape-rendering="crispEdges"/>
<rect x="822" y="605.50" width="30" height="39.00" fill="#fff1ab" shape-rendering="crispEdges"/>
<rect x="822" y="567.00" width="30" height="39.00" fill="#ffe895" shape-rendering="crispEdges"/>
<rect x="822" y="528.50" width="30" height="39.00" fill="#fede80" shape-rendering="crispEdges"/>
<rect x="822" y="490.00" width="30" height="39.00" fill="#fecf6b" shape-rendering="crispEdges"/>
<rect x="822" y="451.50" width="30" height="39.00" fill="#febb56" shape-rendering="crispEdges"/>
<rect x="822" y="413.00" width="30" height="39.00" fill="#fea848" shape-rendering="crispEdges"/>
<rect x="822" y="374.50" width="30" height="39.00" fill="#fd9640" shape-rendering="crispEdges"/>
<rect x="822" y="336.00" width="30" height="39.00" fill="#fd7c37" shape-rendering="crispEdges"/>
<rect x="822" y="297.50" width="30" height="39.00" fill="#fc5d2e" shape-rendering="crispEdges"/>
<rect x="822" y="259.00" width="30" height="39.00" fill="#f54026" shape-rendering="crispEdges"/>
<rect x="822" y="220.50" width="30" height="39.00" fill="#e9261f" shape-rendering="crispEdges"/>
<rect x="822" y="182.00" width="30" height="39.00" fill="#d9131f" shape-rendering="crispEdges"/>
<rect x="822" y="143.50" width="30" height="39.00" fill="#c50624" shape-rendering="crispEdges"/>
<rect x="822" y="105.00" width="30" height="39.00" fill="#ac0026" shape-rendering="crispEdges"/>
<rect x="822" y="67.00" width="30" height="38.50" fill="#8d0026" shape-rendering="crispEdges"/>
<text x="872.8" y="651.5" font-family="Liberation Sans" font-size="13.3" letter-spacing="1.05" fill="#000">10</text>
<text x="872.8" y="613.0" font-family="Liberation Sans" font-size="13.3" letter-spacing="1.05" fill="#000">20</text>
<text x="872.8" y="574.5" font-family="Liberation Sans" font-size="13.3" letter-spacing="1.05" fill="#000">30</text>
<text x="872.8" y="536.0" font-family="Liberation Sans" font-size="13.3" letter-spacing="1.05" fill="#000">40</text>
<text x="872.8" y="497.5" font-family="Liberation Sans" font-size="13.3" letter-spacing="1.05" fill="#000">50</text>
<text x="872.8" y="459.0" font-family="Liberation Sans" font-size="13.3" letter-spacing="1.05" fill="#000">60</text>
<text x="872.8" y="420.5" font-family="Liberation Sans" font-size="13.3" letter-spacing="1.05" fill="#000">70</text>
<text x="872.8" y="382.0" font-family="Liberation Sans" font-size="13.3" letter-spacing="1.05" fill="#000">80</text>
<text x="872.8" y="343.5" font-family="Liberation Sans" font-size="13.3" letter-spacing="1.05" fill="#000">90</text>
<text x="872.8" y="305.0" font-family="Liberation Sans" font-size="13.3" letter-spacing="1.05" fill="#000">100</text>
<text x="872.8" y="266.5" font-family="Liberation Sans" font-size="13.3" letter-spacing="1.05" fill="#000">110</text>
<text x="872.8" y="228.0" font-family="Liberation Sans" font-size="13.3" letter-spacing="1.05" fill="#000">120</text>
<text x="872.8" y="189.5" font-family="Liberation Sans" font-size="13.3" letter-spacing="1.05" fill="#000">130</text>
<text x="872.8" y="151.0" font-family="Liberation Sans" font-size="13.3" letter-spacing="1.05" fill="#000">140</text>
<text x="872.8" y="112.5" font-family="Liberation Sans" font-size="13.3" letter-spacing="1.05" fill="#000">150</text>
<text x="872.8" y="74.0" font-family="Liberation Sans" font-size="13.3" letter-spacing="1.05" fill="#000">160</text>
<text x="48.3" y="126.9" text-anchor="end" font-family="Liberation Sans" font-size="11" letter-spacing="0.9" fill="#808080">6°N</text>
<text x="48.3" y="205.4" text-anchor="end" font-family="Liberation Sans" font-size="11" letter-spacing="0.9" fill="#808080">0°</text>
<text x="48.3" y="283.9" text-anchor="end" font-family="Liberation Sans" font-size="11" letter-spacing="0.9" fill="#808080">6°S</text>
<text x="48.3" y="362.4" text-anchor="end" font-family="Liberation Sans" font-size="11" letter-spacing="0.9" fill="#808080">12°S</text>
<text x="48.3" y="440.9" text-anchor="end" font-family="Liberation Sans" font-size="11" letter-spacing="0.9" fill="#808080">18°S</text>
<text x="48.3" y="519.4" text-anchor="end" font-family="Liberation Sans" font-size="11" letter-spacing="0.9" fill="#808080">24°S</text>
<text x="48.3" y="598.0" text-anchor="end" font-family="Liberation Sans" font-size="11" letter-spacing="0.9" fill="#808080">30°S</text>
<text x="48.3" y="676.5" text-anchor="end" font-family="Liberation Sans" font-size="11" letter-spacing="0.9" fill="#808080">36°S</text>
<text x="138.6" y="706.2" text-anchor="middle" font-family="Liberation Sans" font-size="11" letter-spacing="0.9" fill="#808080">80°W</text>
<text x="269.4" y="706.2" text-anchor="middle" font-family="Liberation Sans" font-size="11" letter-spacing="0.9" fill="#808080">70°W</text>
<text x="400.1" y="706.2" text-anchor="middle" font-family="Liberation Sans" font-size="11" letter-spacing="0.9" fill="#808080">60°W</text>
<text x="530.9" y="706.2" text-anchor="middle" font-family="Liberation Sans" font-size="11" letter-spacing="0.9" fill="#808080">50°W</text>
<text x="661.6" y="706.2" text-anchor="middle" font-family="Liberation Sans" font-size="11" letter-spacing="0.9" fill="#808080">40°W</text>
<text x="72.8" y="34.2" font-family="Liberation Sans" font-weight="bold" font-size="16.6" textLength="697.9" lengthAdjust="spacingAndGlyphs" fill="#000">Graus-Dia para Temperatura Basal de 12°C (°C/dia) - Acumulado em 7 dias</text>
<text x="131.2" y="51.9" font-family="Liberation Sans" font-size="16.2" textLength="574.8" lengthAdjust="spacingAndGlyphs" fill="#000">Acumulado de 06/04/2026 12 UTC a 13/04/2026 11 UTC - WRF 12km</text>
<text x="68.5" y="668.8" font-family="Liberation Sans" font-weight="bold" font-size="12.8" textLength="132.7" lengthAdjust="spacingAndGlyphs" fill="#000">SEMAD/CIMEHGO</text>
</svg></body></html>
